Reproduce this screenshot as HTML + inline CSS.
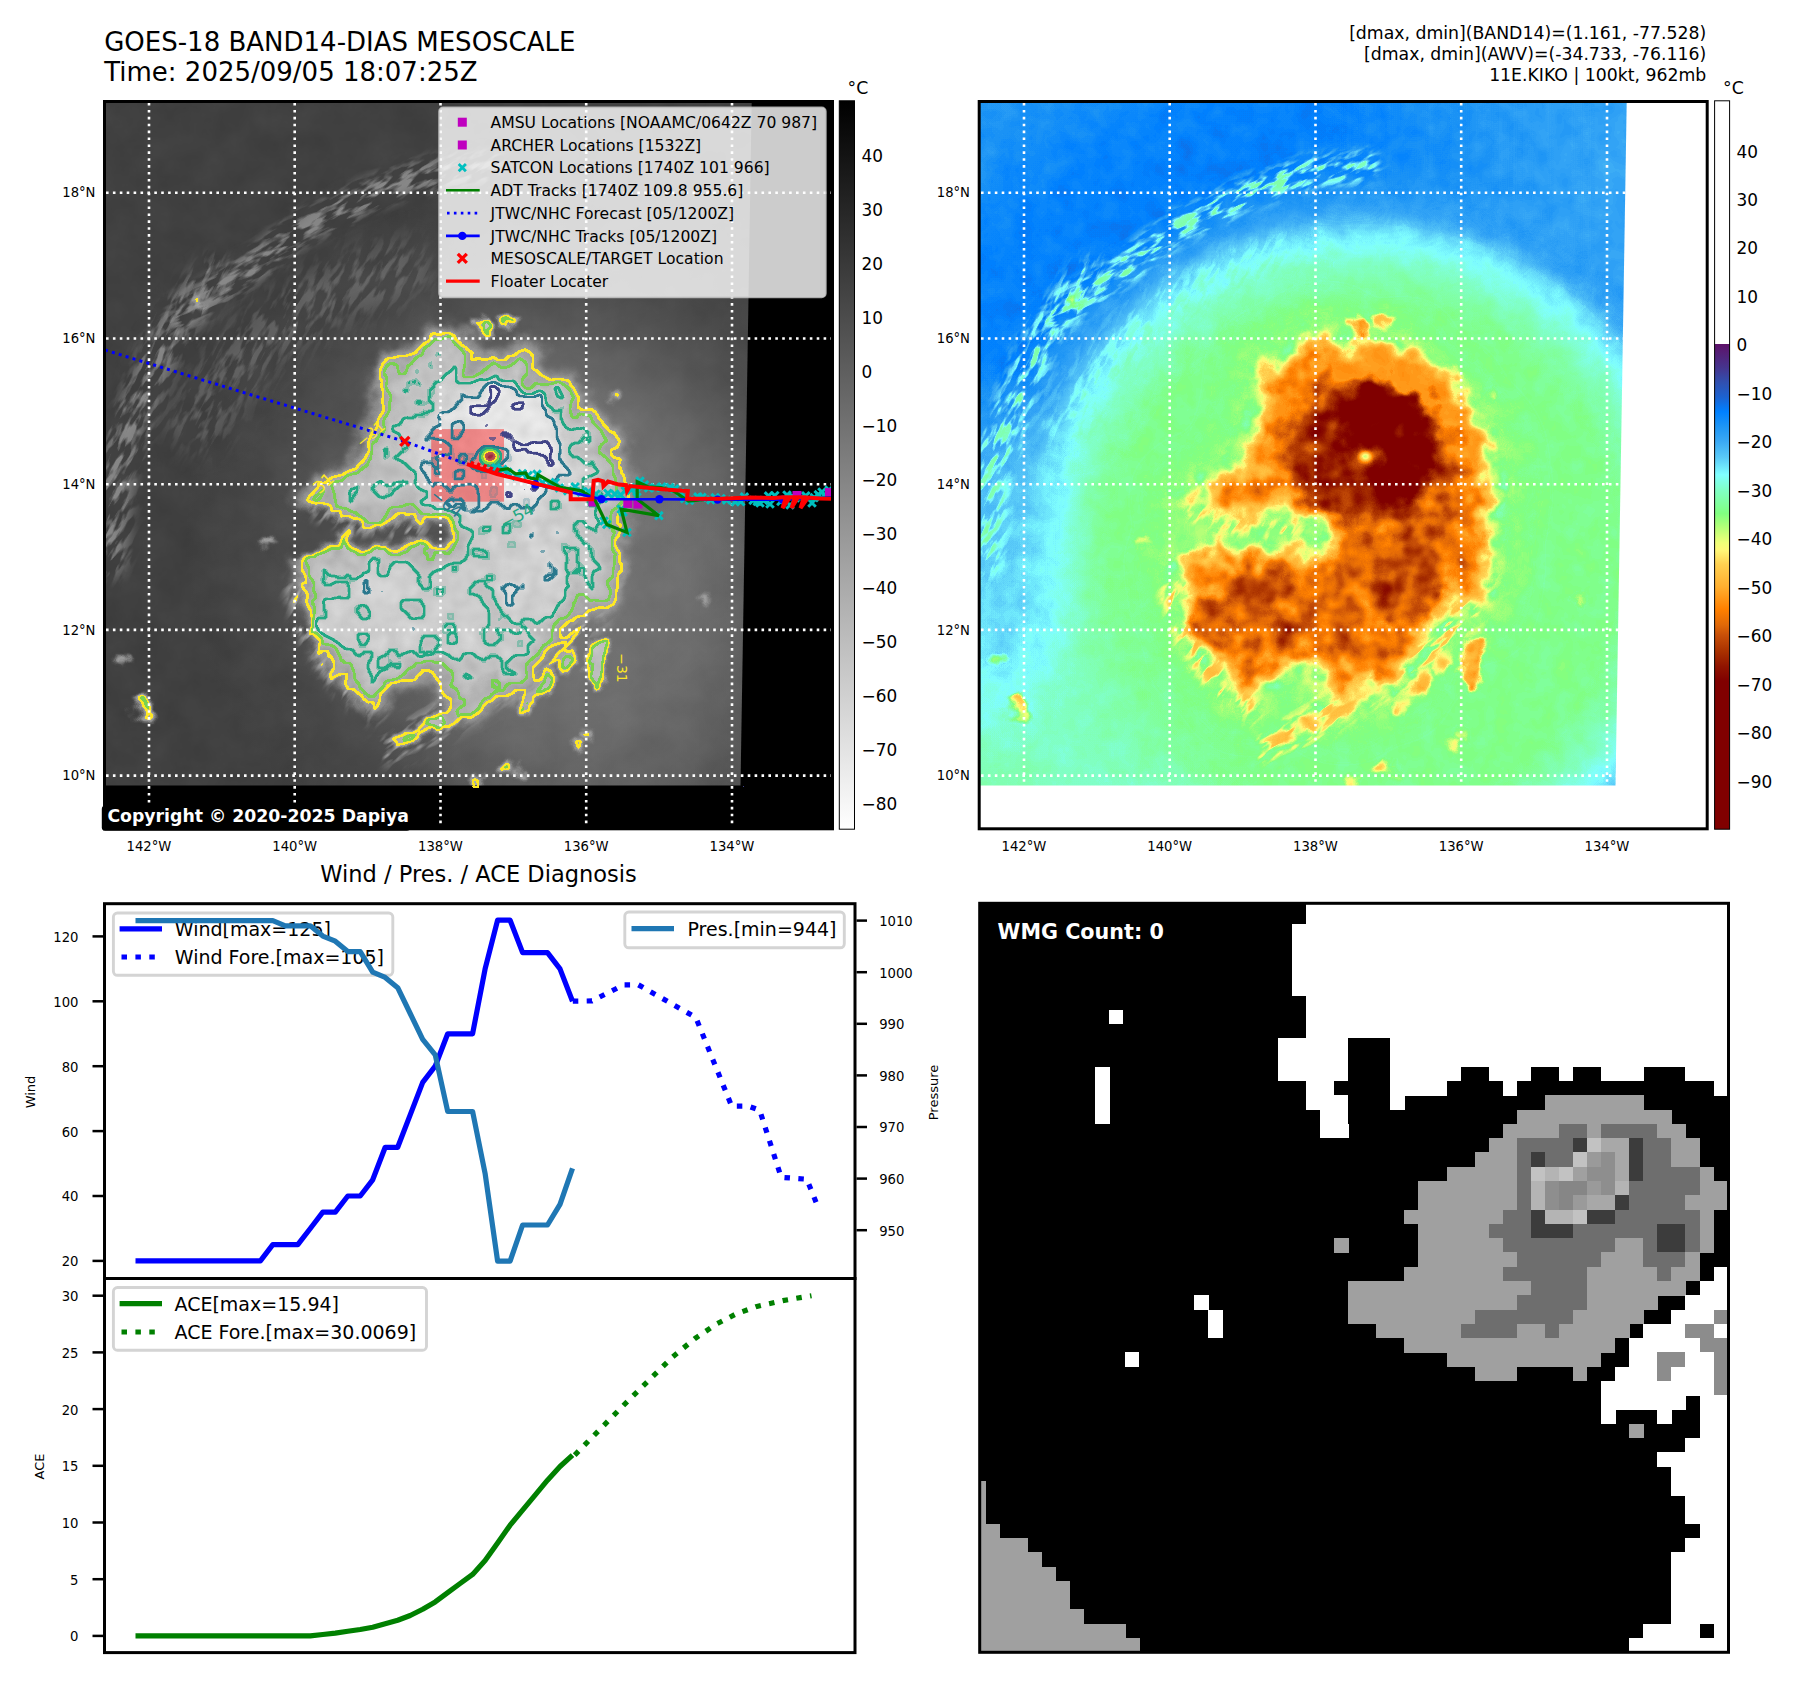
<!DOCTYPE html>
<html><head><meta charset="utf-8"><title>GOES-18 BAND14-DIAS MESOSCALE</title>
<style>html,body{margin:0;padding:0;background:#fff}svg{display:block}text{font-family:'DejaVu Sans','Liberation Sans',sans-serif}</style></head><body>
<svg width="1797" height="1690" viewBox="0 0 1797 1690">
<rect width="1797" height="1690" fill="#fff"/>
<defs>
<clipPath id="clipAx"><rect x="104.5" y="101.5" width="728" height="727.3"/></clipPath>
<clipPath id="clipD"><polygon points="105,102 751.7,102 745.2,500 740.5,785.5 105,785.5"/></clipPath>
<filter id="b2" filterUnits="userSpaceOnUse" x="0" y="0" width="900" height="900" color-interpolation-filters="sRGB"><feGaussianBlur stdDeviation="2"/></filter>
<filter id="b3" filterUnits="userSpaceOnUse" x="0" y="0" width="900" height="900" color-interpolation-filters="sRGB"><feGaussianBlur stdDeviation="3"/></filter>
<filter id="b4" filterUnits="userSpaceOnUse" x="0" y="0" width="900" height="900" color-interpolation-filters="sRGB"><feGaussianBlur stdDeviation="4"/></filter>
<filter id="b5" filterUnits="userSpaceOnUse" x="0" y="0" width="900" height="900" color-interpolation-filters="sRGB"><feGaussianBlur stdDeviation="5"/></filter>
<filter id="b6" filterUnits="userSpaceOnUse" x="0" y="0" width="900" height="900" color-interpolation-filters="sRGB"><feGaussianBlur stdDeviation="6"/></filter>
<filter id="b8" filterUnits="userSpaceOnUse" x="0" y="0" width="900" height="900" color-interpolation-filters="sRGB"><feGaussianBlur stdDeviation="8"/></filter>
<filter id="b10" filterUnits="userSpaceOnUse" x="0" y="0" width="900" height="900" color-interpolation-filters="sRGB"><feGaussianBlur stdDeviation="10"/></filter>
<filter id="b14" filterUnits="userSpaceOnUse" x="0" y="0" width="900" height="900" color-interpolation-filters="sRGB"><feGaussianBlur stdDeviation="14"/></filter>
<filter id="b20" filterUnits="userSpaceOnUse" x="0" y="0" width="900" height="900" color-interpolation-filters="sRGB"><feGaussianBlur stdDeviation="20"/></filter>
<filter id="b30" filterUnits="userSpaceOnUse" x="0" y="0" width="900" height="900" color-interpolation-filters="sRGB"><feGaussianBlur stdDeviation="30"/></filter>
<filter id="rag" filterUnits="userSpaceOnUse" x="90" y="90" width="680" height="710" color-interpolation-filters="sRGB"><feTurbulence type="fractalNoise" baseFrequency="0.045" numOctaves="3" seed="7" result="t"/><feDisplacementMap in="SourceGraphic" in2="t" scale="22" xChannelSelector="R" yChannelSelector="G" result="d"/><feTurbulence type="fractalNoise" baseFrequency="0.05" numOctaves="2" seed="5" result="a0"/><feColorMatrix in="a0" type="matrix" values="1 0 0 0 0  1 0 0 0 0  1 0 0 0 0  0 0 0 0 1" result="a1"/><feComposite in="a1" in2="d" operator="in" result="aIn"/><feTurbulence type="fractalNoise" baseFrequency="0.05" numOctaves="2" seed="19" result="b0"/><feColorMatrix in="b0" type="matrix" values="1 0 0 0 0  1 0 0 0 0  1 0 0 0 0  0 0 0 0 1" result="b1"/><feComposite in="b1" in2="d" operator="in" result="bIn"/><feComposite in="d" in2="bIn" operator="arithmetic" k1="0" k2="1" k3="-0.11" k4="0" result="r1"/><feComposite in="r1" in2="aIn" operator="arithmetic" k1="0" k2="1" k3="0.11" k4="0"/></filter>
<filter id="rag1" filterUnits="userSpaceOnUse" x="90" y="90" width="680" height="710" color-interpolation-filters="sRGB"><feTurbulence type="fractalNoise" baseFrequency="0.03" numOctaves="3" seed="23" result="t"/><feDisplacementMap in="SourceGraphic" in2="t" scale="40" xChannelSelector="R" yChannelSelector="G"/></filter>
<filter id="er9" filterUnits="userSpaceOnUse" x="90" y="90" width="680" height="710" color-interpolation-filters="sRGB"><feMorphology operator="erode" radius="9"/><feGaussianBlur stdDeviation="6"/></filter>
<filter id="cmapR" filterUnits="userSpaceOnUse" x="90" y="90" width="680" height="710" color-interpolation-filters="sRGB"><feTurbulence type="fractalNoise" baseFrequency="0.05" numOctaves="3" seed="3" result="n"/><feColorMatrix in="n" type="matrix" values="1 0 0 0 0  1 0 0 0 0  1 0 0 0 0  0 0 0 0 1" result="n1"/><feComposite in="SourceGraphic" in2="n1" operator="arithmetic" k1="0" k2="1" k3="0.03" k4="-0.015" result="f"/><feComponentTransfer in="f"><feFuncR type="table" tableValues="1 1 1 1 1 1 1 1 1 1 1 1 1 1 1 1 1 1 1 1 1 1 1 1 1 1 1 1 1 1 1 1 1 1 1 1 1 1 1 1 1 1 1 1 1 1 1 1 1 1 1 1 1 1 1 1 1 1 1 1 1 1 1 1 1 1 1 1 1 1 1 1 1 1 1 1 1 1 1 1 1 1 1 1 1 1 1 1 1 1 1 1 1 1 1 1 1 1 1 1 0.369 0.359 0.349 0.339 0.329 0.32 0.31 0.3 0.29 0.28 0.271 0.257 0.243 0.229 0.216 0.202 0.188 0.175 0.162 0.149 0.136 0.123 0.11 0.092 0.073 0.055 0.037 0.018 0 0.019 0.038 0.057 0.076 0.095 0.114 0.132 0.15 0.169 0.187 0.205 0.224 0.242 0.261 0.279 0.297 0.316 0.334 0.353 0.374 0.396 0.417 0.438 0.459 0.481 0.502 0.502 0.502 0.502 0.502 0.502 0.502 0.502 0.502 0.502 0.502 0.502 0.502 0.502 0.502 0.502 0.502 0.538 0.574 0.611 0.647 0.683 0.72 0.757 0.794 0.83 0.867 0.904 0.941 0.961 0.98 1 1 1 1 1 1 1 1 1 1 1 1 1 1 1 1 1 1 1 1 1 1 1 1 1 0.989 0.971 0.952 0.934 0.915 0.897 0.878 0.855 0.831 0.808 0.784 0.766 0.748 0.731 0.713 0.695 0.677 0.659 0.643 0.627 0.612 0.596 0.58 0.565 0.554 0.544 0.533 0.523 0.512 0.502 0.502 0.502 0.502 0.502 0.502 0.502 0.502 0.502 0.502 0.502 0.502 0.502 0.502 0.502 0.502 0.502 0.502 0.502 0.502 0.502 0.502 0.502 0.502 0.502 0.502 0.502 0.502 0.502 0.502 0.502 0.502"/><feFuncG type="table" tableValues="1 1 1 1 1 1 1 1 1 1 1 1 1 1 1 1 1 1 1 1 1 1 1 1 1 1 1 1 1 1 1 1 1 1 1 1 1 1 1 1 1 1 1 1 1 1 1 1 1 1 1 1 1 1 1 1 1 1 1 1 1 1 1 1 1 1 1 1 1 1 1 1 1 1 1 1 1 1 1 1 1 1 1 1 1 1 1 1 1 1 1 1 1 1 1 1 1 1 1 1 0.067 0.081 0.095 0.109 0.123 0.137 0.151 0.165 0.18 0.194 0.208 0.225 0.243 0.261 0.278 0.296 0.314 0.325 0.337 0.349 0.361 0.373 0.384 0.404 0.424 0.443 0.463 0.482 0.502 0.516 0.529 0.543 0.557 0.571 0.584 0.597 0.609 0.622 0.634 0.646 0.659 0.678 0.697 0.716 0.735 0.754 0.773 0.792 0.822 0.852 0.881 0.911 0.941 0.97 1 1 1 1 1 1 1 1 1 1 1 1 1 1 1 1 1 1 1 1 1 1 1 1 1 1 1 1 1 0.991 0.982 0.973 0.946 0.92 0.894 0.868 0.842 0.816 0.802 0.788 0.774 0.76 0.746 0.732 0.718 0.704 0.69 0.67 0.65 0.63 0.61 0.59 0.57 0.55 0.53 0.51 0.493 0.479 0.465 0.451 0.436 0.422 0.408 0.384 0.361 0.337 0.314 0.296 0.278 0.26 0.242 0.224 0.206 0.188 0.17 0.152 0.133 0.115 0.097 0.078 0.065 0.052 0.039 0.026 0.013 0 0 0 0 0 0 0 0 0 0 0 0 0 0 0 0 0 0 0 0 0 0 0 0 0 0 0 0 0 0 0 0"/><feFuncB type="table" tableValues="1 1 1 1 1 1 1 1 1 1 1 1 1 1 1 1 1 1 1 1 1 1 1 1 1 1 1 1 1 1 1 1 1 1 1 1 1 1 1 1 1 1 1 1 1 1 1 1 1 1 1 1 1 1 1 1 1 1 1 1 1 1 1 1 1 1 1 1 1 1 1 1 1 1 1 1 1 1 1 1 1 1 1 1 1 1 1 1 1 1 1 1 1 1 1 1 1 1 1 1 0.408 0.423 0.438 0.454 0.469 0.484 0.5 0.515 0.53 0.545 0.561 0.582 0.604 0.625 0.647 0.669 0.69 0.711 0.732 0.753 0.774 0.795 0.816 0.846 0.877 0.908 0.939 0.969 1 0.993 0.987 0.98 0.974 0.967 0.961 0.961 0.961 0.961 0.961 0.961 0.961 0.962 0.964 0.966 0.968 0.969 0.971 0.973 0.976 0.98 0.984 0.988 0.992 0.996 1 0.964 0.928 0.892 0.856 0.82 0.784 0.756 0.728 0.7 0.671 0.643 0.615 0.587 0.558 0.53 0.502 0.496 0.49 0.484 0.478 0.472 0.471 0.471 0.471 0.471 0.471 0.471 0.471 0.471 0.471 0.471 0.444 0.418 0.392 0.366 0.34 0.314 0.3 0.286 0.272 0.258 0.244 0.23 0.216 0.202 0.188 0.168 0.148 0.128 0.108 0.088 0.068 0.048 0.028 0.008 0.003 0.008 0.012 0.017 0.022 0.027 0.031 0.031 0.031 0.031 0.031 0.027 0.022 0.018 0.013 0.009 0.004 0 0 0 0 0 0 0 0 0 0 0 0 0 0 0 0 0 0 0 0 0 0 0 0 0 0 0 0 0 0 0 0 0 0 0 0 0 0 0 0 0 0 0 0"/></feComponentTransfer></filter>
<filter id="noiseL" filterUnits="userSpaceOnUse" x="90" y="90" width="680" height="710" color-interpolation-filters="sRGB"><feTurbulence type="fractalNoise" baseFrequency="0.03" numOctaves="4" seed="11" result="n"/><feColorMatrix in="n" type="matrix" values="1 0 0 0 0  1 0 0 0 0  1 0 0 0 0  0 0 0 0 1" result="n1"/><feComposite in="SourceGraphic" in2="n1" operator="arithmetic" k1="0" k2="1" k3="0.045" k4="-0.0225"/></filter>
<filter id="cont" filterUnits="userSpaceOnUse" x="90" y="90" width="680" height="710" color-interpolation-filters="sRGB"><feGaussianBlur in="SourceGraphic" stdDeviation="1.8" result="sg"/><feColorMatrix in="sg" type="matrix" values="0 0 0 0 0.992  0 0 0 0 0.906  0 0 0 0 0.145  120.0 0 0 0 -72.000" result="m0"/><feMorphology in="m0" operator="erode" radius="2" result="e0"/><feComposite in="m0" in2="e0" operator="out" result="c0"/><feColorMatrix in="sg" type="matrix" values="0 0 0 0 0.478  0 0 0 0 0.820  0 0 0 0 0.318  120.0 0 0 0 -80.889" result="m1"/><feMorphology in="m1" operator="erode" radius="2" result="e1"/><feComposite in="m1" in2="e1" operator="out" result="c1"/><feColorMatrix in="sg" type="matrix" values="0 0 0 0 0.133  0 0 0 0 0.659  0 0 0 0 0.518  120.0 0 0 0 -92.444" result="m2"/><feMorphology in="m2" operator="erode" radius="2" result="e2"/><feComposite in="m2" in2="e2" operator="out" result="c2"/><feColorMatrix in="sg" type="matrix" values="0 0 0 0 0.165  0 0 0 0 0.471  0 0 0 0 0.557  120.0 0 0 0 -101.333" result="m3"/><feMorphology in="m3" operator="erode" radius="2" result="e3"/><feComposite in="m3" in2="e3" operator="out" result="c3"/><feColorMatrix in="sg" type="matrix" values="0 0 0 0 0.255  0 0 0 0 0.267  0 0 0 0 0.529  120.0 0 0 0 -110.222" result="m4"/><feMorphology in="m4" operator="erode" radius="2" result="e4"/><feComposite in="m4" in2="e4" operator="out" result="c4"/><feMerge result="mg"><feMergeNode in="c0"/><feMergeNode in="c1"/><feMergeNode in="c2"/><feMergeNode in="c3"/><feMergeNode in="c4"/></feMerge><feComponentTransfer in="mg"><feFuncA type="linear" slope="3" intercept="-0.4"/></feComponentTransfer></filter>
<radialGradient id="bgR" gradientUnits="userSpaceOnUse" cx="490" cy="560" r="700"><stop offset="0.000" stop-color="#9f9f9f"/><stop offset="0.364" stop-color="#9f9f9f"/><stop offset="0.400" stop-color="#9b9b9b"/><stop offset="0.436" stop-color="#959595"/><stop offset="0.457" stop-color="#919191"/><stop offset="0.479" stop-color="#8c8c8c"/><stop offset="0.500" stop-color="#848484"/><stop offset="0.529" stop-color="#7e7e7e"/><stop offset="0.571" stop-color="#797979"/><stop offset="0.686" stop-color="#7a7a7a"/><stop offset="0.800" stop-color="#7e7e7e"/><stop offset="0.914" stop-color="#808080"/><stop offset="1.000" stop-color="#808080"/></radialGradient>
<radialGradient id="eastR" gradientUnits="userSpaceOnUse" cx="490" cy="560" r="700" ><stop offset="0.000" stop-color="#838383" stop-opacity="0"/><stop offset="0.479" stop-color="#838383" stop-opacity="0"/><stop offset="0.536" stop-color="#838383" stop-opacity="1"/><stop offset="1.000" stop-color="#838383" stop-opacity="1"/></radialGradient>
<linearGradient id="eastLG" gradientUnits="userSpaceOnUse" x1="430" y1="0" x2="720" y2="0"><stop offset="0" stop-color="#000"/><stop offset="1" stop-color="#fff"/></linearGradient>
<mask id="eastM" maskUnits="userSpaceOnUse" x="90" y="90" width="700" height="720"><rect x="90" y="90" width="700" height="720" fill="url(#eastLG)"/></mask>
<radialGradient id="haloL" gradientUnits="userSpaceOnUse" cx="545" cy="540" r="400" ><stop offset="0.000" stop-color="#797979" stop-opacity="1"/><stop offset="0.375" stop-color="#797979" stop-opacity="0.78"/><stop offset="0.463" stop-color="#797979" stop-opacity="0.6"/><stop offset="0.562" stop-color="#797979" stop-opacity="0.36"/><stop offset="0.713" stop-color="#797979" stop-opacity="0.13"/><stop offset="0.900" stop-color="#797979" stop-opacity="0.0"/><stop offset="1.000" stop-color="#797979" stop-opacity="0"/></radialGradient>
<radialGradient id="halo2" gradientUnits="userSpaceOnUse" cx="610" cy="690" r="230" ><stop offset="0.000" stop-color="#707070" stop-opacity="0.75"/><stop offset="0.391" stop-color="#707070" stop-opacity="0.6"/><stop offset="0.696" stop-color="#707070" stop-opacity="0.3"/><stop offset="1.000" stop-color="#707070" stop-opacity="0"/></radialGradient>
<radialGradient id="cyL" gradientUnits="userSpaceOnUse" cx="120" cy="560" r="200" gradientTransform="translate(120 560) scale(0.5 1) translate(-120 -560)"><stop offset="0.000" stop-color="#8e8e8e" stop-opacity="0.85"/><stop offset="0.400" stop-color="#8e8e8e" stop-opacity="0.7"/><stop offset="0.700" stop-color="#8e8e8e" stop-opacity="0.35"/><stop offset="1.000" stop-color="#8e8e8e" stop-opacity="0"/></radialGradient>
<radialGradient id="blR" gradientUnits="userSpaceOnUse" cx="120" cy="800" r="260" ><stop offset="0.000" stop-color="#9b9b9b" stop-opacity="1"/><stop offset="0.462" stop-color="#9b9b9b" stop-opacity="0.8"/><stop offset="1.000" stop-color="#9b9b9b" stop-opacity="0"/></radialGradient>
<mask id="moatM" maskUnits="userSpaceOnUse" x="60" y="60" width="800" height="800"><rect x="60" y="60" width="800" height="800" fill="#fff"/><path d="M285.0,512.0 C291.3,506.3 310.0,510.2 320.0,511.0 C330.0,511.8 337.5,514.7 345.0,517.0 C352.5,519.3 358.3,523.3 365.0,525.0 C371.7,526.7 379.5,527.7 385.0,527.0 C390.5,526.3 394.5,523.3 398.0,521.0 C401.5,518.7 403.0,512.3 406.0,513.0 C409.0,513.7 411.0,523.0 416.0,525.0 C421.0,527.0 430.0,524.0 436.0,525.0 C442.0,526.0 450.3,528.3 452.0,531.0 C453.7,533.7 449.7,538.5 446.0,541.0 C442.3,543.5 435.2,546.2 430.0,546.0 C424.8,545.8 420.8,540.2 415.0,540.0 C409.2,539.8 401.7,544.7 395.0,545.0 C388.3,545.3 381.2,542.3 375.0,542.0 C368.8,541.7 362.2,544.5 358.0,543.0 C353.8,541.5 352.7,535.0 350.0,533.0 C347.3,531.0 344.5,528.8 342.0,531.0 C339.5,533.2 337.8,543.3 335.0,546.0 C332.2,548.7 330.8,545.7 325.0,547.0 C319.2,548.3 307.2,554.3 300.0,554.0 C292.8,553.7 284.5,552.0 282.0,545.0 C279.5,538.0 278.7,517.7 285.0,512.0Z" fill="#000" filter="url(#b3)"/></mask>
<path id="moat" d="M285.0,512.0 C291.3,506.3 310.0,510.2 320.0,511.0 C330.0,511.8 337.5,514.7 345.0,517.0 C352.5,519.3 358.3,523.3 365.0,525.0 C371.7,526.7 379.5,527.7 385.0,527.0 C390.5,526.3 394.5,523.3 398.0,521.0 C401.5,518.7 403.0,512.3 406.0,513.0 C409.0,513.7 411.0,523.0 416.0,525.0 C421.0,527.0 430.0,524.0 436.0,525.0 C442.0,526.0 450.3,528.3 452.0,531.0 C453.7,533.7 449.7,538.5 446.0,541.0 C442.3,543.5 435.2,546.2 430.0,546.0 C424.8,545.8 420.8,540.2 415.0,540.0 C409.2,539.8 401.7,544.7 395.0,545.0 C388.3,545.3 381.2,542.3 375.0,542.0 C368.8,541.7 362.2,544.5 358.0,543.0 C353.8,541.5 352.7,535.0 350.0,533.0 C347.3,531.0 344.5,528.8 342.0,531.0 C339.5,533.2 337.8,543.3 335.0,546.0 C332.2,548.7 330.8,545.7 325.0,547.0 C319.2,548.3 307.2,554.3 300.0,554.0 C292.8,553.7 284.5,552.0 282.0,545.0 C279.5,538.0 278.7,517.7 285.0,512.0Z"/>
<filter id="stL" filterUnits="userSpaceOnUse" x="-400" y="-400" width="1600" height="1600" color-interpolation-filters="sRGB"><feTurbulence type="fractalNoise" baseFrequency="0.04 0.15" numOctaves="3" seed="31"/><feColorMatrix type="matrix" values="0 0 0 0 0.53  0 0 0 0 0.53  0 0 0 0 0.53  5.5 0 0 0 -2.5"/></filter>
<filter id="stR" filterUnits="userSpaceOnUse" x="-400" y="-400" width="1600" height="1600" color-interpolation-filters="sRGB"><feTurbulence type="fractalNoise" baseFrequency="0.04 0.15" numOctaves="3" seed="31"/><feColorMatrix type="matrix" values="0 0 0 0 0.607  0 0 0 0 0.607  0 0 0 0 0.607  5.5 0 0 0 -2.5"/></filter>
<mask id="bandA" maskUnits="userSpaceOnUse" x="60" y="60" width="800" height="800"><path d="M108.0,560.0 C109.7,545.0 112.7,496.7 118.0,470.0 C123.3,443.3 130.5,424.2 140.0,400.0 C149.5,375.8 162.5,345.8 175.0,325.0 C187.5,304.2 208.3,283.3 215.0,275.0" fill="none" stroke="#fff" stroke-width="34" stroke-linecap="round" filter="url(#b8)"/><path d="M200.0,420.0 C208.3,408.3 230.0,370.0 250.0,350.0 C270.0,330.0 295.0,313.3 320.0,300.0 C345.0,286.7 386.7,275.0 400.0,270.0" fill="none" stroke="#777" stroke-width="60" stroke-linecap="round" filter="url(#b14)"/></mask>
<mask id="bandB" maskUnits="userSpaceOnUse" x="60" y="60" width="800" height="800"><path d="M180.0,318.0 C185.8,313.3 203.3,298.3 215.0,290.0 C226.7,281.7 236.3,277.7 250.0,268.0 C263.7,258.3 282.0,241.7 297.0,232.0 C312.0,222.3 326.2,217.0 340.0,210.0 C353.8,203.0 365.0,196.0 380.0,190.0 C395.0,184.0 411.7,178.0 430.0,174.0 C448.3,170.0 480.0,167.3 490.0,166.0" fill="none" stroke="#fff" stroke-width="30" stroke-linecap="round" filter="url(#b6)"/></mask>
<filter id="stF" filterUnits="userSpaceOnUse" x="-400" y="-400" width="1600" height="1600" color-interpolation-filters="sRGB"><feTurbulence type="fractalNoise" baseFrequency="0.03 0.11" numOctaves="3" seed="47"/><feColorMatrix type="matrix" values="0 0 0 0 0.726  0 0 0 0 0.726  0 0 0 0 0.726  6 0 0 0 -3.05"/></filter>
<mask id="frM1" maskUnits="userSpaceOnUse" x="60" y="60" width="800" height="800"><path d="M392.0,748.0 C400.0,743.7 425.3,730.3 440.0,722.0 C454.7,713.7 465.8,706.3 480.0,698.0 C494.2,689.7 511.7,680.7 525.0,672.0 C538.3,663.3 549.2,656.0 560.0,646.0 C570.8,636.0 582.7,623.8 590.0,612.0 C597.3,600.2 601.7,581.2 604.0,575.0" fill="none" stroke="#fff" stroke-width="28" stroke-linecap="round" filter="url(#b8)"/></mask>
<mask id="frM2" maskUnits="userSpaceOnUse" x="60" y="60" width="800" height="800"><path d="M300.0,590.0 C302.0,596.7 307.0,618.0 312.0,630.0 C317.0,642.0 323.3,652.0 330.0,662.0 C336.7,672.0 345.0,682.3 352.0,690.0 C359.0,697.7 368.7,705.0 372.0,708.0" fill="none" stroke="#fff" stroke-width="26" stroke-linecap="round" filter="url(#b6)"/><path d="M318.0,512.0 C323.3,513.7 338.8,519.0 350.0,522.0 C361.2,525.0 373.3,529.0 385.0,530.0 C396.7,531.0 414.2,528.3 420.0,528.0" fill="none" stroke="#ccc" stroke-width="16" stroke-linecap="round" filter="url(#b5)"/></mask>
<g id="fringe"><g mask="url(#frM1)"><g transform="rotate(-38 500 680)"><rect x="-300" y="-300" width="1400" height="1400" filter="url(#stF)"/></g></g><g mask="url(#frM2)"><g transform="rotate(-55 330 650)"><rect x="-300" y="-300" width="1400" height="1400" filter="url(#stF)"/></g></g></g>
<g id="cloud" filter="url(#rag)">
<g mask="url(#moatM)"><path d="M445.9,338.0 C451.8,337.3 459.1,338.4 463.4,344.6 C467.8,350.8 468.5,371.6 472.2,375.2 C475.8,378.9 475.8,370.1 485.3,366.5 C494.8,362.8 523.3,351.9 529.1,353.3 C534.9,354.8 513.1,368.7 520.4,375.2 C527.6,381.8 564.9,386.9 572.9,392.7 C580.9,398.6 564.9,405.2 568.5,410.3 C572.2,415.4 586.8,416.1 594.8,423.4 C602.8,430.7 614.5,445.3 616.7,454.1 C618.9,462.8 607.2,470.1 607.9,475.9 C608.7,481.8 620.3,479.6 621.1,489.1 C621.8,498.6 613.8,519.0 612.3,532.9 C610.8,546.7 613.8,559.9 612.3,572.3 C610.8,584.7 608.7,604.4 603.5,607.3 C598.4,610.2 586.8,588.3 581.7,589.8 C576.5,591.2 577.3,611.0 572.9,616.1 C568.5,621.2 559.0,615.3 555.4,620.4 C551.7,625.5 554.7,640.1 551.0,646.7 C547.4,653.3 538.6,653.3 533.5,659.8 C528.4,666.4 526.9,681.0 520.4,686.1 C513.8,691.2 502.1,686.8 494.1,690.5 C486.1,694.1 479.5,706.6 472.2,708.0 C464.9,709.5 454.1,704.2 450.3,699.3 C446.5,694.3 450.9,683.0 449.2,678.5 C447.5,674.0 441.8,675.9 440.0,672.3 C438.2,668.7 440.6,658.4 438.5,656.9 C436.4,655.4 431.0,661.3 427.7,663.1 C424.4,664.9 421.1,665.7 418.5,667.7 C415.9,669.8 416.4,673.6 412.3,675.4 C408.2,677.2 398.9,676.2 393.8,678.5 C388.7,680.8 385.1,685.6 381.5,689.2 C377.9,692.8 376.4,700.5 372.3,700.0 C368.2,699.5 359.5,690.3 356.9,686.2 C354.3,682.1 359.5,679.0 356.9,675.4 C354.3,671.8 346.4,668.2 341.5,664.6 C336.6,661.0 329.2,657.6 327.7,653.8 C326.2,649.9 332.8,645.6 332.3,641.5 C331.8,637.4 327.2,633.8 324.6,629.2 C322.0,624.6 319.2,618.9 316.9,613.8 C314.6,608.7 311.8,603.6 310.8,598.5 C309.8,593.4 311.6,589.3 310.8,583.1 C310.0,576.9 303.6,566.6 306.2,561.5 C308.8,556.4 320.8,553.8 326.2,552.3 C331.6,550.8 336.2,554.9 338.5,552.3 C340.8,549.7 338.5,539.7 340.0,536.9 C341.5,534.1 345.4,533.8 347.7,535.4 C350.0,537.0 351.8,543.6 353.8,546.2 C355.9,548.8 356.4,550.5 360.0,550.8 C363.6,551.0 369.2,547.7 375.4,547.7 C381.5,547.7 390.2,551.0 396.9,550.8 C403.6,550.5 411.3,547.5 415.4,546.2 C419.5,544.9 419.4,541.8 421.5,543.1 C423.6,544.4 425.1,551.0 427.7,553.8 C430.3,556.6 434.3,560.2 436.9,560.0 C439.5,559.8 440.0,555.6 443.1,552.3 C446.2,549.0 452.6,544.1 455.4,540.0 C458.2,535.9 461.0,530.8 460.0,527.7 C459.0,524.6 452.5,523.0 449.2,521.5 C445.9,520.0 445.1,518.5 440.0,518.5 C434.9,518.5 423.4,521.5 418.5,521.5 C413.6,521.5 411.8,520.8 410.8,518.5 C409.8,516.2 413.9,510.0 412.3,507.7 C410.8,505.4 404.1,503.8 401.5,504.6 C398.9,505.4 399.2,510.0 396.9,512.3 C394.6,514.6 390.8,517.0 387.7,518.5 C384.6,520.0 382.6,521.5 378.5,521.5 C374.4,521.5 369.3,520.3 363.1,518.5 C356.9,516.7 348.7,513.1 341.5,510.8 C334.3,508.5 325.1,506.7 320.0,504.6 C314.9,502.6 310.0,501.3 310.8,498.5 C311.6,495.7 318.9,491.1 325.0,488.0 C331.1,484.9 341.4,483.2 347.7,480.0 C354.0,476.8 359.9,473.2 363.0,469.0 C366.1,464.8 364.0,459.8 366.0,455.0 C368.0,450.2 371.9,443.8 375.0,440.0 C378.1,436.2 383.7,436.4 384.6,432.2 C385.5,428.0 378.7,421.2 380.2,414.6 C381.7,408.0 392.7,399.3 393.4,392.7 C394.1,386.1 382.4,381.0 384.6,375.2 C386.8,369.4 399.2,362.1 406.5,357.7 C413.8,353.3 421.8,352.3 428.4,349.0 C435.0,345.7 440.1,338.8 445.9,338.0Z" fill="#a2a2a2" stroke="#a2a2a2" stroke-width="24" stroke-linejoin="round" filter="url(#b6)"/></g>
<path d="M445.9,338.0 C451.8,337.3 459.1,338.4 463.4,344.6 C467.8,350.8 468.5,371.6 472.2,375.2 C475.8,378.9 475.8,370.1 485.3,366.5 C494.8,362.8 523.3,351.9 529.1,353.3 C534.9,354.8 513.1,368.7 520.4,375.2 C527.6,381.8 564.9,386.9 572.9,392.7 C580.9,398.6 564.9,405.2 568.5,410.3 C572.2,415.4 586.8,416.1 594.8,423.4 C602.8,430.7 614.5,445.3 616.7,454.1 C618.9,462.8 607.2,470.1 607.9,475.9 C608.7,481.8 620.3,479.6 621.1,489.1 C621.8,498.6 613.8,519.0 612.3,532.9 C610.8,546.7 613.8,559.9 612.3,572.3 C610.8,584.7 608.7,604.4 603.5,607.3 C598.4,610.2 586.8,588.3 581.7,589.8 C576.5,591.2 577.3,611.0 572.9,616.1 C568.5,621.2 559.0,615.3 555.4,620.4 C551.7,625.5 554.7,640.1 551.0,646.7 C547.4,653.3 538.6,653.3 533.5,659.8 C528.4,666.4 526.9,681.0 520.4,686.1 C513.8,691.2 502.1,686.8 494.1,690.5 C486.1,694.1 479.5,706.6 472.2,708.0 C464.9,709.5 454.1,704.2 450.3,699.3 C446.5,694.3 450.9,683.0 449.2,678.5 C447.5,674.0 441.8,675.9 440.0,672.3 C438.2,668.7 440.6,658.4 438.5,656.9 C436.4,655.4 431.0,661.3 427.7,663.1 C424.4,664.9 421.1,665.7 418.5,667.7 C415.9,669.8 416.4,673.6 412.3,675.4 C408.2,677.2 398.9,676.2 393.8,678.5 C388.7,680.8 385.1,685.6 381.5,689.2 C377.9,692.8 376.4,700.5 372.3,700.0 C368.2,699.5 359.5,690.3 356.9,686.2 C354.3,682.1 359.5,679.0 356.9,675.4 C354.3,671.8 346.4,668.2 341.5,664.6 C336.6,661.0 329.2,657.6 327.7,653.8 C326.2,649.9 332.8,645.6 332.3,641.5 C331.8,637.4 327.2,633.8 324.6,629.2 C322.0,624.6 319.2,618.9 316.9,613.8 C314.6,608.7 311.8,603.6 310.8,598.5 C309.8,593.4 311.6,589.3 310.8,583.1 C310.0,576.9 303.6,566.6 306.2,561.5 C308.8,556.4 320.8,553.8 326.2,552.3 C331.6,550.8 336.2,554.9 338.5,552.3 C340.8,549.7 338.5,539.7 340.0,536.9 C341.5,534.1 345.4,533.8 347.7,535.4 C350.0,537.0 351.8,543.6 353.8,546.2 C355.9,548.8 356.4,550.5 360.0,550.8 C363.6,551.0 369.2,547.7 375.4,547.7 C381.5,547.7 390.2,551.0 396.9,550.8 C403.6,550.5 411.3,547.5 415.4,546.2 C419.5,544.9 419.4,541.8 421.5,543.1 C423.6,544.4 425.1,551.0 427.7,553.8 C430.3,556.6 434.3,560.2 436.9,560.0 C439.5,559.8 440.0,555.6 443.1,552.3 C446.2,549.0 452.6,544.1 455.4,540.0 C458.2,535.9 461.0,530.8 460.0,527.7 C459.0,524.6 452.5,523.0 449.2,521.5 C445.9,520.0 445.1,518.5 440.0,518.5 C434.9,518.5 423.4,521.5 418.5,521.5 C413.6,521.5 411.8,520.8 410.8,518.5 C409.8,516.2 413.9,510.0 412.3,507.7 C410.8,505.4 404.1,503.8 401.5,504.6 C398.9,505.4 399.2,510.0 396.9,512.3 C394.6,514.6 390.8,517.0 387.7,518.5 C384.6,520.0 382.6,521.5 378.5,521.5 C374.4,521.5 369.3,520.3 363.1,518.5 C356.9,516.7 348.7,513.1 341.5,510.8 C334.3,508.5 325.1,506.7 320.0,504.6 C314.9,502.6 310.0,501.3 310.8,498.5 C311.6,495.7 318.9,491.1 325.0,488.0 C331.1,484.9 341.4,483.2 347.7,480.0 C354.0,476.8 359.9,473.2 363.0,469.0 C366.1,464.8 364.0,459.8 366.0,455.0 C368.0,450.2 371.9,443.8 375.0,440.0 C378.1,436.2 383.7,436.4 384.6,432.2 C385.5,428.0 378.7,421.2 380.2,414.6 C381.7,408.0 392.7,399.3 393.4,392.7 C394.1,386.1 382.4,381.0 384.6,375.2 C386.8,369.4 399.2,362.1 406.5,357.7 C413.8,353.3 421.8,352.3 428.4,349.0 C435.0,345.7 440.1,338.8 445.9,338.0Z" fill="#b7b7b7" filter="url(#b5)"/>
<path d="M445.9,338.0 C451.8,337.3 459.1,338.4 463.4,344.6 C467.8,350.8 468.5,371.6 472.2,375.2 C475.8,378.9 475.8,370.1 485.3,366.5 C494.8,362.8 523.3,351.9 529.1,353.3 C534.9,354.8 513.1,368.7 520.4,375.2 C527.6,381.8 564.9,386.9 572.9,392.7 C580.9,398.6 564.9,405.2 568.5,410.3 C572.2,415.4 586.8,416.1 594.8,423.4 C602.8,430.7 614.5,445.3 616.7,454.1 C618.9,462.8 607.2,470.1 607.9,475.9 C608.7,481.8 620.3,479.6 621.1,489.1 C621.8,498.6 613.8,519.0 612.3,532.9 C610.8,546.7 613.8,559.9 612.3,572.3 C610.8,584.7 608.7,604.4 603.5,607.3 C598.4,610.2 586.8,588.3 581.7,589.8 C576.5,591.2 577.3,611.0 572.9,616.1 C568.5,621.2 559.0,615.3 555.4,620.4 C551.7,625.5 554.7,640.1 551.0,646.7 C547.4,653.3 538.6,653.3 533.5,659.8 C528.4,666.4 526.9,681.0 520.4,686.1 C513.8,691.2 502.1,686.8 494.1,690.5 C486.1,694.1 479.5,706.6 472.2,708.0 C464.9,709.5 454.1,704.2 450.3,699.3 C446.5,694.3 450.9,683.0 449.2,678.5 C447.5,674.0 441.8,675.9 440.0,672.3 C438.2,668.7 440.6,658.4 438.5,656.9 C436.4,655.4 431.0,661.3 427.7,663.1 C424.4,664.9 421.1,665.7 418.5,667.7 C415.9,669.8 416.4,673.6 412.3,675.4 C408.2,677.2 398.9,676.2 393.8,678.5 C388.7,680.8 385.1,685.6 381.5,689.2 C377.9,692.8 376.4,700.5 372.3,700.0 C368.2,699.5 359.5,690.3 356.9,686.2 C354.3,682.1 359.5,679.0 356.9,675.4 C354.3,671.8 346.4,668.2 341.5,664.6 C336.6,661.0 329.2,657.6 327.7,653.8 C326.2,649.9 332.8,645.6 332.3,641.5 C331.8,637.4 327.2,633.8 324.6,629.2 C322.0,624.6 319.2,618.9 316.9,613.8 C314.6,608.7 311.8,603.6 310.8,598.5 C309.8,593.4 311.6,589.3 310.8,583.1 C310.0,576.9 303.6,566.6 306.2,561.5 C308.8,556.4 320.8,553.8 326.2,552.3 C331.6,550.8 336.2,554.9 338.5,552.3 C340.8,549.7 338.5,539.7 340.0,536.9 C341.5,534.1 345.4,533.8 347.7,535.4 C350.0,537.0 351.8,543.6 353.8,546.2 C355.9,548.8 356.4,550.5 360.0,550.8 C363.6,551.0 369.2,547.7 375.4,547.7 C381.5,547.7 390.2,551.0 396.9,550.8 C403.6,550.5 411.3,547.5 415.4,546.2 C419.5,544.9 419.4,541.8 421.5,543.1 C423.6,544.4 425.1,551.0 427.7,553.8 C430.3,556.6 434.3,560.2 436.9,560.0 C439.5,559.8 440.0,555.6 443.1,552.3 C446.2,549.0 452.6,544.1 455.4,540.0 C458.2,535.9 461.0,530.8 460.0,527.7 C459.0,524.6 452.5,523.0 449.2,521.5 C445.9,520.0 445.1,518.5 440.0,518.5 C434.9,518.5 423.4,521.5 418.5,521.5 C413.6,521.5 411.8,520.8 410.8,518.5 C409.8,516.2 413.9,510.0 412.3,507.7 C410.8,505.4 404.1,503.8 401.5,504.6 C398.9,505.4 399.2,510.0 396.9,512.3 C394.6,514.6 390.8,517.0 387.7,518.5 C384.6,520.0 382.6,521.5 378.5,521.5 C374.4,521.5 369.3,520.3 363.1,518.5 C356.9,516.7 348.7,513.1 341.5,510.8 C334.3,508.5 325.1,506.7 320.0,504.6 C314.9,502.6 310.0,501.3 310.8,498.5 C311.6,495.7 318.9,491.1 325.0,488.0 C331.1,484.9 341.4,483.2 347.7,480.0 C354.0,476.8 359.9,473.2 363.0,469.0 C366.1,464.8 364.0,459.8 366.0,455.0 C368.0,450.2 371.9,443.8 375.0,440.0 C378.1,436.2 383.7,436.4 384.6,432.2 C385.5,428.0 378.7,421.2 380.2,414.6 C381.7,408.0 392.7,399.3 393.4,392.7 C394.1,386.1 382.4,381.0 384.6,375.2 C386.8,369.4 399.2,362.1 406.5,357.7 C413.8,353.3 421.8,352.3 428.4,349.0 C435.0,345.7 440.1,338.8 445.9,338.0Z" fill="#c6c6c6" filter="url(#er9)"/>
<path d="M493.3,330.8 C492.7,332.5 490.6,334.4 488.4,335.0 C486.2,335.6 482.7,335.4 480.3,334.5 C477.8,333.6 475.0,331.5 473.8,329.7 C472.5,327.8 472.0,325.0 472.7,323.2 C473.3,321.5 475.4,319.6 477.6,319.0 C479.8,318.4 483.3,318.6 485.7,319.5 C488.2,320.4 491.0,322.5 492.2,324.3 C493.5,326.2 494.0,329.0 493.3,330.8Z" fill="#bdbdbd" filter="url(#b2)"/>
<path d="M515.7,325.3 C515.3,326.8 513.7,328.4 512.0,329.1 C510.2,329.7 507.4,329.8 505.3,329.3 C503.3,328.7 500.8,327.2 499.7,325.8 C498.5,324.4 497.9,322.2 498.3,320.7 C498.7,319.2 500.3,317.6 502.0,316.9 C503.8,316.3 506.6,316.2 508.7,316.7 C510.7,317.3 513.2,318.8 514.3,320.2 C515.5,321.6 516.1,323.8 515.7,325.3Z" fill="#b9b9b9" filter="url(#b2)"/>
<path d="M620.5,393.0 C620.5,394.2 619.7,395.7 618.7,396.5 C617.7,397.4 615.9,398.0 614.5,398.0 C613.1,398.0 611.3,397.4 610.3,396.5 C609.3,395.7 608.5,394.2 608.5,393.0 C608.5,391.8 609.3,390.3 610.3,389.5 C611.3,388.6 613.1,388.0 614.5,388.0 C615.9,388.0 617.7,388.6 618.7,389.5 C619.7,390.3 620.5,391.8 620.5,393.0Z" fill="#aaaaaa" filter="url(#b2)"/>
<path d="M200.5,305.0 C200.5,306.1 199.9,307.4 199.2,308.2 C198.4,308.9 197.1,309.5 196.0,309.5 C194.9,309.5 193.6,308.9 192.8,308.2 C192.1,307.4 191.5,306.1 191.5,305.0 C191.5,303.9 192.1,302.6 192.8,301.8 C193.6,301.1 194.9,300.5 196.0,300.5 C197.1,300.5 198.4,301.1 199.2,301.8 C199.9,302.6 200.5,303.9 200.5,305.0Z" fill="#aaaaaa" filter="url(#b2)"/>
<path d="M274.0,545.0 C274.0,546.1 273.4,547.4 272.5,548.2 C271.7,548.9 270.2,549.5 269.0,549.5 C267.8,549.5 266.3,548.9 265.5,548.2 C264.6,547.4 264.0,546.1 264.0,545.0 C264.0,543.9 264.6,542.6 265.5,541.8 C266.3,541.1 267.8,540.5 269.0,540.5 C270.2,540.5 271.7,541.1 272.5,541.8 C273.4,542.6 274.0,543.9 274.0,545.0Z" fill="#aaaaaa" filter="url(#b2)"/>
<path d="M151.0,706.0 C151.0,707.6 150.0,709.8 148.7,710.9 C147.3,712.1 144.9,713.0 143.0,713.0 C141.1,713.0 138.7,712.1 137.3,710.9 C136.0,709.8 135.0,707.6 135.0,706.0 C135.0,704.4 136.0,702.2 137.3,701.1 C138.7,699.9 141.1,699.0 143.0,699.0 C144.9,699.0 147.3,699.9 148.7,701.1 C150.0,702.2 151.0,704.4 151.0,706.0Z" fill="#b2b2b2" filter="url(#b2)"/>
<path d="M153.0,716.0 C153.0,717.4 152.1,719.2 150.9,720.2 C149.8,721.2 147.6,722.0 146.0,722.0 C144.4,722.0 142.2,721.2 141.1,720.2 C139.9,719.2 139.0,717.4 139.0,716.0 C139.0,714.6 139.9,712.8 141.1,711.8 C142.2,710.8 144.4,710.0 146.0,710.0 C147.6,710.0 149.8,710.8 150.9,711.8 C152.1,712.8 153.0,714.6 153.0,716.0Z" fill="#aeaeae" filter="url(#b2)"/>
<path d="M126.5,661.0 C126.5,662.1 125.9,663.4 125.2,664.2 C124.4,664.9 123.1,665.5 122.0,665.5 C120.9,665.5 119.6,664.9 118.8,664.2 C118.1,663.4 117.5,662.1 117.5,661.0 C117.5,659.9 118.1,658.6 118.8,657.8 C119.6,657.1 120.9,656.5 122.0,656.5 C123.1,656.5 124.4,657.1 125.2,657.8 C125.9,658.6 126.5,659.9 126.5,661.0Z" fill="#a6a6a6" filter="url(#b2)"/>
<path d="M709.5,601.0 C709.5,602.1 708.9,603.4 708.2,604.2 C707.4,604.9 706.1,605.5 705.0,605.5 C703.9,605.5 702.6,604.9 701.8,604.2 C701.1,603.4 700.5,602.1 700.5,601.0 C700.5,599.9 701.1,598.6 701.8,597.8 C702.6,597.1 703.9,596.5 705.0,596.5 C706.1,596.5 707.4,597.1 708.2,597.8 C708.9,598.6 709.5,599.9 709.5,601.0Z" fill="#a6a6a6" filter="url(#b2)"/>
<path d="M608.9,666.5 C608.0,673.1 605.4,681.3 602.9,685.7 C600.5,690.1 596.7,693.1 594.1,692.7 C591.5,692.4 588.7,688.4 587.5,683.5 C586.4,678.6 586.2,670.0 587.1,663.5 C588.0,656.9 590.6,648.7 593.1,644.3 C595.5,639.9 599.3,636.9 601.9,637.3 C604.5,637.6 607.3,641.6 608.5,646.5 C609.6,651.4 609.8,660.0 608.9,666.5Z" fill="#bdbdbd" filter="url(#b2)"/>
<path d="M552.3,688.4 C550.5,692.2 547.2,696.8 544.7,698.9 C542.3,701.1 539.1,702.1 537.4,701.3 C535.7,700.5 534.4,697.4 534.5,694.1 C534.6,690.9 536.0,685.5 537.7,681.6 C539.5,677.8 542.8,673.2 545.3,671.1 C547.7,668.9 550.9,667.9 552.6,668.7 C554.3,669.5 555.6,672.6 555.5,675.9 C555.4,679.1 554.0,684.5 552.3,688.4Z" fill="#b3b3b3" filter="url(#b2)"/>
<path d="M574.6,662.4 C573.4,665.5 571.2,669.2 569.3,671.0 C567.4,672.8 564.8,673.7 563.2,673.2 C561.7,672.6 560.3,670.2 560.0,667.6 C559.7,665.0 560.3,660.7 561.4,657.6 C562.6,654.5 564.8,650.8 566.7,649.0 C568.6,647.2 571.2,646.3 572.8,646.8 C574.3,647.4 575.7,649.8 576.0,652.4 C576.3,655.0 575.7,659.3 574.6,662.4Z" fill="#aeaeae" filter="url(#b2)"/>
<path d="M536.1,703.5 C534.6,705.9 532.1,708.7 530.0,709.8 C528.0,711.0 525.4,711.2 524.0,710.4 C522.6,709.6 521.5,707.2 521.5,704.9 C521.5,702.6 522.5,698.9 523.9,696.5 C525.4,694.1 527.9,691.3 530.0,690.2 C532.0,689.0 534.6,688.8 536.0,689.6 C537.4,690.4 538.5,692.8 538.5,695.1 C538.5,697.4 537.5,701.1 536.1,703.5Z" fill="#aeaeae" filter="url(#b2)"/>
<path d="M581.6,743.6 C582.0,744.8 581.8,746.7 581.0,748.0 C580.2,749.2 578.4,750.6 576.9,751.2 C575.3,751.7 573.1,751.8 571.7,751.3 C570.3,750.9 568.9,749.6 568.4,748.4 C568.0,747.2 568.2,745.3 569.0,744.0 C569.8,742.8 571.6,741.4 573.1,740.8 C574.7,740.3 576.9,740.2 578.3,740.7 C579.7,741.1 581.1,742.4 581.6,743.6Z" fill="#aeaeae" filter="url(#b2)"/>
<path d="M591.0,737.0 C591.0,738.2 590.4,739.7 589.5,740.5 C588.7,741.4 587.2,742.0 586.0,742.0 C584.8,742.0 583.3,741.4 582.5,740.5 C581.6,739.7 581.0,738.2 581.0,737.0 C581.0,735.8 581.6,734.3 582.5,733.5 C583.3,732.6 584.8,732.0 586.0,732.0 C587.2,732.0 588.7,732.6 589.5,733.5 C590.4,734.3 591.0,735.8 591.0,737.0Z" fill="#aaaaaa" filter="url(#b2)"/>
<path d="M513.0,767.0 C513.0,768.4 512.1,770.2 510.9,771.2 C509.8,772.2 507.6,773.0 506.0,773.0 C504.4,773.0 502.2,772.2 501.1,771.2 C499.9,770.2 499.0,768.4 499.0,767.0 C499.0,765.6 499.9,763.8 501.1,762.8 C502.2,761.8 504.4,761.0 506.0,761.0 C507.6,761.0 509.8,761.8 510.9,762.8 C512.1,763.8 513.0,765.6 513.0,767.0Z" fill="#aeaeae" filter="url(#b2)"/>
<path d="M524.0,772.0 C524.0,773.2 523.4,774.7 522.5,775.5 C521.7,776.4 520.2,777.0 519.0,777.0 C517.8,777.0 516.3,776.4 515.5,775.5 C514.6,774.7 514.0,773.2 514.0,772.0 C514.0,770.8 514.6,769.3 515.5,768.5 C516.3,767.6 517.8,767.0 519.0,767.0 C520.2,767.0 521.7,767.6 522.5,768.5 C523.4,769.3 524.0,770.8 524.0,772.0Z" fill="#a6a6a6" filter="url(#b2)"/>
<path d="M486.0,782.0 C486.0,783.2 485.0,784.7 483.7,785.5 C482.3,786.4 479.9,787.0 478.0,787.0 C476.1,787.0 473.7,786.4 472.3,785.5 C471.0,784.7 470.0,783.2 470.0,782.0 C470.0,780.8 471.0,779.3 472.3,778.5 C473.7,777.6 476.1,777.0 478.0,777.0 C479.9,777.0 482.3,777.6 483.7,778.5 C485.0,779.3 486.0,780.8 486.0,782.0Z" fill="#aeaeae" filter="url(#b2)"/>
<path d="M480.2,704.1 C480.9,705.6 476.7,709.8 470.4,713.9 C464.2,717.9 452.3,724.2 442.8,728.4 C433.4,732.6 420.8,737.3 413.6,739.2 C406.4,741.1 400.5,741.4 399.8,739.9 C399.1,738.4 403.3,734.2 409.6,730.1 C415.8,726.1 427.7,719.8 437.2,715.6 C446.6,711.4 459.2,706.7 466.4,704.8 C473.6,702.9 479.5,702.6 480.2,704.1Z" fill="#b2b2b2" filter="url(#b2)"/>
<path d="M504.7,678.2 C505.6,679.6 504.3,683.1 501.7,686.3 C499.1,689.6 493.6,694.5 489.0,697.7 C484.4,701.0 477.9,704.4 473.9,705.8 C470.0,707.1 466.3,707.1 465.3,705.8 C464.4,704.4 465.7,700.9 468.3,697.7 C470.9,694.4 476.4,689.5 481.0,686.3 C485.6,683.0 492.1,679.6 496.1,678.2 C500.0,676.9 503.7,676.9 504.7,678.2Z" fill="#b2b2b2" filter="url(#b2)"/>
<path d="M416.6,736.9 C416.9,738.0 415.8,739.9 414.1,741.2 C412.4,742.5 409.0,744.1 406.3,744.8 C403.6,745.6 399.9,745.9 397.7,745.6 C395.6,745.3 393.7,744.2 393.4,743.1 C393.1,742.0 394.2,740.1 395.9,738.8 C397.6,737.5 401.0,735.9 403.7,735.2 C406.4,734.4 410.1,734.1 412.3,734.4 C414.4,734.7 416.3,735.8 416.6,736.9Z" fill="#aaaaaa" filter="url(#b2)"/>
<path d="M494.1,379.6 C507.2,379.6 526.2,383.3 537.9,388.4 C549.5,393.5 556.8,401.5 564.1,410.3 C571.4,419.0 578.0,430.0 581.7,440.9 C585.3,451.9 586.0,464.3 586.0,475.9 C586.0,487.6 581.7,500.0 581.7,511.0 C581.7,521.9 586.8,532.1 586.0,541.6 C585.3,551.1 581.7,562.1 577.3,567.9 C572.9,573.7 563.4,571.5 559.8,576.7 C556.1,581.8 560.5,595.6 555.4,598.5 C550.3,601.5 534.9,591.2 529.1,594.2 C523.3,597.1 526.2,613.1 520.4,616.1 C514.5,619.0 499.9,608.0 494.1,611.7 C488.2,615.3 489.7,629.9 485.3,638.0 C480.9,646.0 474.4,656.9 467.8,659.8 C461.2,662.8 451.0,659.8 445.9,655.5 C440.8,651.1 443.7,633.6 437.2,633.6 C430.6,633.6 415.3,652.6 406.5,655.5 C397.7,658.4 389.0,656.9 384.6,651.1 C380.2,645.3 378.0,629.2 380.2,620.4 C382.4,611.7 389.0,603.7 397.7,598.5 C406.5,593.4 425.5,594.9 432.8,589.8 C440.1,584.7 436.4,573.0 441.5,567.9 C446.6,562.8 458.3,564.2 463.4,559.1 C468.5,554.0 467.1,542.4 472.2,537.2 C477.3,532.1 491.9,532.1 494.1,528.5 C496.3,524.8 492.6,518.3 485.3,515.4 C478.0,512.4 460.5,515.4 450.3,511.0 C440.1,506.6 431.3,496.4 424.0,489.1 C416.7,481.8 408.7,475.9 406.5,467.2 C404.3,458.4 407.2,446.0 410.9,436.5 C414.5,427.0 420.4,418.3 428.4,410.3 C436.4,402.2 448.1,393.5 459.1,388.4 C470.0,383.3 480.9,379.6 494.1,379.6Z" fill="#cbcbcb" filter="url(#b6)"/>
<path d="M358.0,575.0 C363.8,570.8 372.2,566.2 380.0,565.0 C387.8,563.8 398.7,564.7 405.0,568.0 C411.3,571.3 417.2,578.8 418.0,585.0 C418.8,591.2 413.8,598.3 410.0,605.0 C406.2,611.7 396.7,618.3 395.0,625.0 C393.3,631.7 401.7,640.0 400.0,645.0 C398.3,650.0 390.8,655.8 385.0,655.0 C379.2,654.2 370.8,646.7 365.0,640.0 C359.2,633.3 353.3,623.3 350.0,615.0 C346.7,606.7 343.7,596.7 345.0,590.0 C346.3,583.3 352.2,579.2 358.0,575.0Z" fill="#d2d2d2" fill-opacity="0.75" filter="url(#b5)"/>
<path d="M325.0,600.0 C330.0,597.5 340.8,595.0 345.0,600.0 C349.2,605.0 351.7,621.7 350.0,630.0 C348.3,638.3 340.3,648.3 335.0,650.0 C329.7,651.7 321.3,645.8 318.0,640.0 C314.7,634.2 313.8,621.7 315.0,615.0 C316.2,608.3 320.0,602.5 325.0,600.0Z" fill="#d2d2d2" fill-opacity="0.75" filter="url(#b5)"/>
<path d="M505.0,540.0 C512.5,531.7 530.0,525.0 540.0,525.0 C550.0,525.0 560.0,530.8 565.0,540.0 C570.0,549.2 571.7,568.3 570.0,580.0 C568.3,591.7 561.7,602.5 555.0,610.0 C548.3,617.5 538.3,625.0 530.0,625.0 C521.7,625.0 510.8,618.3 505.0,610.0 C499.2,601.7 495.0,586.7 495.0,575.0 C495.0,563.3 497.5,548.3 505.0,540.0Z" fill="#d2d2d2" fill-opacity="0.75" filter="url(#b5)"/>
<path d="M417.0,460.0 C415.7,450.3 417.5,438.7 420.0,430.0 C422.5,421.3 426.2,413.8 432.0,408.0 C437.8,402.2 445.3,397.8 455.0,395.0 C464.7,392.2 479.2,391.0 490.0,391.0 C500.8,391.0 510.8,391.8 520.0,395.0 C529.2,398.2 538.7,403.3 545.0,410.0 C551.3,416.7 555.0,425.7 558.0,435.0 C561.0,444.3 563.3,456.0 563.0,466.0 C562.7,476.0 560.7,487.3 556.0,495.0 C551.3,502.7 542.7,508.2 535.0,512.0 C527.3,515.8 519.2,517.3 510.0,518.0 C500.8,518.7 490.0,518.2 480.0,516.0 C470.0,513.8 458.7,509.7 450.0,505.0 C441.3,500.3 433.5,495.5 428.0,488.0 C422.5,480.5 418.3,469.7 417.0,460.0Z" fill="#dadada" filter="url(#b8)"/>
<path d="M487.4,390.0 C494.9,388.5 511.6,386.2 521.0,387.7 C530.4,389.2 538.0,392.6 543.6,399.0 C549.2,405.4 552.9,414.4 554.8,426.0 C556.7,437.6 556.7,457.0 554.8,468.6 C552.9,480.2 549.2,490.0 543.6,495.6 C538.0,501.2 528.5,502.0 521.0,502.4 C513.5,502.8 503.1,501.6 498.6,497.9 C494.1,494.1 492.5,485.5 494.0,479.9 C495.5,474.2 506.5,469.6 507.6,464.0 C508.7,458.4 504.9,449.4 500.8,446.0 C496.7,442.6 488.1,442.8 482.9,443.9 C477.7,445.0 472.8,454.4 469.4,452.9 C466.0,451.4 463.4,441.6 462.6,434.9 C461.9,428.1 462.7,418.8 464.9,412.4 C467.1,406.0 472.2,400.4 476.0,396.7 C479.8,393.0 479.9,391.5 487.4,390.0Z" fill="#e7e7e7" filter="url(#b4)"/>
</g>
<g id="eye">
<path d="M493.5,457.5 C494.2,458.7 494.3,460.5 493.8,462.1 C493.2,463.7 491.8,465.7 490.3,467.1 C488.7,468.5 486.4,469.8 484.4,470.5 C482.4,471.1 480.0,471.3 478.4,471.0 C476.7,470.7 475.2,469.7 474.5,468.5 C473.8,467.3 473.7,465.5 474.2,463.9 C474.8,462.3 476.2,460.3 477.7,458.9 C479.3,457.5 481.6,456.2 483.6,455.5 C485.6,454.9 488.0,454.7 489.6,455.0 C491.3,455.3 492.8,456.3 493.5,457.5Z" fill="#d0d0d0" filter="url(#b3)" opacity="0.9"/>
<ellipse cx="490.5" cy="457" rx="8" ry="6.5" fill="#c1c1c1" filter="url(#b2)"/>
<ellipse cx="490.5" cy="456.5" rx="4.5" ry="3.5" fill="#a2a2a2" filter="url(#b2)"/>
</g>
<g id="eyeL">
<path d="M493.5,457.5 C494.2,458.7 494.3,460.5 493.8,462.1 C493.2,463.7 491.8,465.7 490.3,467.1 C488.7,468.5 486.4,469.8 484.4,470.5 C482.4,471.1 480.0,471.3 478.4,471.0 C476.7,470.7 475.2,469.7 474.5,468.5 C473.8,467.3 473.7,465.5 474.2,463.9 C474.8,462.3 476.2,460.3 477.7,458.9 C479.3,457.5 481.6,456.2 483.6,455.5 C485.6,454.9 488.0,454.7 489.6,455.0 C491.3,455.3 492.8,456.3 493.5,457.5Z" fill="#d0d0d0" filter="url(#b3)" opacity="0.9"/>
<ellipse cx="490.5" cy="457" rx="9" ry="7.5" fill="#bdbdbd" filter="url(#b2)"/>
<ellipse cx="490.3" cy="456.3" rx="6.2" ry="5" fill="#6e6e6e" filter="url(#b2)"/>
</g>
<path id="wisp1" d="M113.0,500.0 C117.5,483.3 129.2,431.0 140.0,400.0 C150.8,369.0 164.7,336.0 178.0,314.0 C191.3,292.0 204.3,281.3 220.0,268.0 C235.7,254.7 255.3,244.5 272.0,234.0 C288.7,223.5 304.5,212.8 320.0,205.0 C335.5,197.2 348.3,192.5 365.0,187.0 C381.7,181.5 400.5,175.8 420.0,172.0 C439.5,168.2 471.7,165.3 482.0,164.0" fill="none"/>
<path id="wisp2" d="M150.0,560.0 C153.3,545.0 161.7,498.3 170.0,470.0 C178.3,441.7 186.7,415.0 200.0,390.0 C213.3,365.0 233.3,338.3 250.0,320.0 C266.7,301.7 291.7,286.7 300.0,280.0" fill="none"/>
</defs>
<rect x="104.5" y="101.5" width="728" height="727.3" fill="#000"/>
<g clip-path="url(#clipD)"><g filter="url(#noiseL)">
<rect x="90" y="90" width="700" height="720" fill="#404040"/>
<rect x="90" y="90" width="700" height="720" fill="url(#haloL)"/>
<rect x="90" y="90" width="700" height="720" fill="url(#halo2)"/>
<g mask="url(#bandA)"><g transform="rotate(-62 160 420)"><rect x="-300" y="-300" width="1400" height="1400" filter="url(#stL)"/></g></g>
<g mask="url(#bandB)"><g transform="rotate(-30 330 220)"><rect x="-300" y="-300" width="1400" height="1400" filter="url(#stL)"/></g></g>
<use href="#moat" fill="#4c4c4c" stroke="#4c4c4c" stroke-width="10" filter="url(#b6)" opacity="0.85"/>
<use href="#fringe"/><use href="#cloud"/><use href="#eyeL"/>
</g></g>
<rect x="431.2" y="429.1" width="72.8" height="72.6" fill="#ff0000" fill-opacity="0.4"/>
<g filter="url(#cont)"><g clip-path="url(#clipD)"><g filter="url(#noiseL)">
<rect x="90" y="90" width="700" height="720" fill="#404040"/>
<rect x="90" y="90" width="700" height="720" fill="url(#haloL)"/>
<rect x="90" y="90" width="700" height="720" fill="url(#halo2)"/>
<g mask="url(#bandA)"><g transform="rotate(-62 160 420)"><rect x="-300" y="-300" width="1400" height="1400" filter="url(#stL)"/></g></g>
<g mask="url(#bandB)"><g transform="rotate(-30 330 220)"><rect x="-300" y="-300" width="1400" height="1400" filter="url(#stL)"/></g></g>
<use href="#moat" fill="#4c4c4c" stroke="#4c4c4c" stroke-width="10" filter="url(#b6)" opacity="0.85"/>
<use href="#fringe"/><use href="#cloud"/><use href="#eyeL"/>
</g></g></g>
<path d="M487.6,457.6 q1.5,-3.2 5.2,-3 q0.6,2.6 -2.2,3.8 q-1.8,0.6 -3,-0.8z" fill="#a0283c"/>
<g stroke="#fff" stroke-width="2.6" stroke-dasharray="2.6 4.3" fill="none"><line x1="149.0" y1="103" x2="149.0" y2="827.3"/><line x1="294.7" y1="103" x2="294.7" y2="827.3"/><line x1="440.5" y1="103" x2="440.5" y2="827.3"/><line x1="586.2" y1="103" x2="586.2" y2="827.3"/><line x1="732.0" y1="103" x2="732.0" y2="827.3"/><line x1="106" y1="192.8" x2="831" y2="192.8"/><line x1="106" y1="338.5" x2="831" y2="338.5"/><line x1="106" y1="484.2" x2="831" y2="484.2"/><line x1="106" y1="629.9" x2="831" y2="629.9"/><line x1="106" y1="775.6" x2="831" y2="775.6"/></g>
<text x="0" y="0" font-size="16.5" text-anchor="middle" font-weight="normal" fill="#2a788e" transform="translate(443,508) rotate(38)">−64</text>
<text x="0" y="0" font-size="16.5" text-anchor="middle" font-weight="normal" fill="#22a884" transform="translate(520,521) rotate(-28)">−54</text>
<text x="0" y="0" font-size="16.5" text-anchor="middle" font-weight="normal" fill="#fde725" transform="translate(322,492) rotate(-42)">−31</text>
<text x="0" y="0" font-size="15" text-anchor="middle" font-weight="normal" fill="#fde725" transform="translate(374,438) rotate(-40)">−31</text>
<text x="0" y="0" font-size="14" text-anchor="middle" font-weight="normal" fill="#fde725" transform="translate(617,668) rotate(90)">−31</text>
<g clip-path="url(#clipAx)">
<polyline points="105,350 250,394.5 404.8,441.4 467,464.2" fill="none" stroke="#0000ff" stroke-width="3" stroke-dasharray="3 4.2"/>
<path d="M492.4,463.9l7.6,7.6M492.4,471.5l7.6,-7.6M498.9,465.5l7.6,7.6M498.9,473.1l7.6,-7.6M503.9,468.3l7.6,7.6M503.9,475.9l7.6,-7.6M512.5,472.3l7.6,7.6M512.5,479.9l7.6,-7.6M518.5,469.8l7.6,7.6M518.5,477.4l7.6,-7.6M524.3,471.6l7.6,7.6M524.3,479.2l7.6,-7.6M533.2,470.4l7.6,7.6M533.2,478.0l7.6,-7.6M538.8,478.7l7.6,7.6M538.8,486.3l7.6,-7.6M546.2,480.3l7.6,7.6M546.2,487.9l7.6,-7.6M551.6,478.6l7.6,7.6M551.6,486.2l7.6,-7.6M555.6,484.1l7.6,7.6M555.6,491.7l7.6,-7.6M563.9,487.0l7.6,7.6M563.9,494.6l7.6,-7.6M571.3,483.0l7.6,7.6M571.3,490.6l7.6,-7.6M577.5,488.4l7.6,7.6M577.5,496.0l7.6,-7.6M584.7,487.9l7.6,7.6M584.7,495.5l7.6,-7.6M592.1,490.3l7.6,7.6M592.1,497.9l7.6,-7.6M599.4,494.6l7.6,7.6M599.4,502.2l7.6,-7.6M604.1,489.5l7.6,7.6M604.1,497.1l7.6,-7.6M611.0,490.3l7.6,7.6M611.0,497.9l7.6,-7.6M616.8,491.1l7.6,7.6M616.8,498.7l7.6,-7.6M621.5,486.9l7.6,7.6M621.5,494.5l7.6,-7.6M627.6,485.9l7.6,7.6M627.6,493.5l7.6,-7.6M632.2,483.8l7.6,7.6M632.2,491.4l7.6,-7.6M640.6,481.0l7.6,7.6M640.6,488.6l7.6,-7.6M644.8,484.1l7.6,7.6M644.8,491.7l7.6,-7.6M651.5,483.9l7.6,7.6M651.5,491.5l7.6,-7.6M658.1,483.1l7.6,7.6M658.1,490.7l7.6,-7.6M666.2,483.6l7.6,7.6M666.2,491.2l7.6,-7.6M670.9,485.1l7.6,7.6M670.9,492.7l7.6,-7.6M676.6,488.6l7.6,7.6M676.6,496.2l7.6,-7.6M680.8,494.9l7.6,7.6M680.8,502.5l7.6,-7.6M685.7,496.6l7.6,7.6M685.7,504.2l7.6,-7.6M694.1,493.1l7.6,7.6M694.1,500.7l7.6,-7.6M698.2,493.6l7.6,7.6M698.2,501.2l7.6,-7.6M707.0,496.0l7.6,7.6M707.0,503.6l7.6,-7.6M711.4,493.9l7.6,7.6M711.4,501.5l7.6,-7.6M717.2,494.7l7.6,7.6M717.2,502.3l7.6,-7.6M722.8,496.3l7.6,7.6M722.8,503.9l7.6,-7.6M731.4,498.0l7.6,7.6M731.4,505.6l7.6,-7.6M736.9,497.9l7.6,7.6M736.9,505.5l7.6,-7.6M740.6,493.1l7.6,7.6M740.6,500.7l7.6,-7.6M749.3,496.5l7.6,7.6M749.3,504.1l7.6,-7.6M753.4,497.6l7.6,7.6M753.4,505.2l7.6,-7.6M759.9,496.6l7.6,7.6M759.9,504.2l7.6,-7.6M764.7,492.1l7.6,7.6M764.7,499.7l7.6,-7.6M771.0,491.7l7.6,7.6M771.0,499.3l7.6,-7.6M777.1,497.7l7.6,7.6M777.1,505.3l7.6,-7.6M783.2,491.3l7.6,7.6M783.2,498.9l7.6,-7.6M788.6,492.6l7.6,7.6M788.6,500.2l7.6,-7.6M797.1,494.2l7.6,7.6M797.1,501.8l7.6,-7.6M802.0,492.0l7.6,7.6M802.0,499.6l7.6,-7.6M810.4,493.9l7.6,7.6M810.4,501.5l7.6,-7.6M814.5,490.9l7.6,7.6M814.5,498.5l7.6,-7.6M820.5,491.3l7.6,7.6M820.5,498.9l7.6,-7.6M828.7,490.7l7.6,7.6M828.7,498.3l7.6,-7.6M603.0,520.6l7.6,7.6M603.0,528.2l7.6,-7.6M623.2,528.6l7.6,7.6M623.2,536.2l7.6,-7.6M617.4,505.4l7.6,7.6M617.4,513.0l7.6,-7.6M655.1,511.9l7.6,7.6M655.1,519.5l7.6,-7.6M600.2,517.2l7.6,7.6M600.2,524.8l7.6,-7.6M619.2,508.2l7.6,7.6M619.2,515.8l7.6,-7.6M636.2,477.2l7.6,7.6M636.2,484.8l7.6,-7.6M633.2,493.2l7.6,7.6M633.2,500.8l7.6,-7.6M756.2,499.2l7.6,7.6M756.2,506.8l7.6,-7.6M766.2,500.2l7.6,7.6M766.2,507.8l7.6,-7.6M786.2,501.2l7.6,7.6M786.2,508.8l7.6,-7.6M808.2,499.2l7.6,7.6M808.2,506.8l7.6,-7.6M818.2,488.2l7.6,7.6M818.2,495.8l7.6,-7.6M825.2,486.2l7.6,7.6M825.2,493.8l7.6,-7.6" stroke="#00bfbf" stroke-width="3" fill="none"/>
<rect x="588.5" y="497.5" width="9" height="9" fill="#bf00bf"/>
<rect x="623.3" y="498.9" width="9" height="9" fill="#bf00bf"/>
<rect x="633.4" y="499.5" width="9" height="9" fill="#bf00bf"/>
<rect x="792.5" y="491.0" width="9" height="9" fill="#bf00bf"/>
<rect x="825.0" y="488.1" width="9" height="9" fill="#bf00bf"/>
<polyline points="497,470.3 507.7,468.6 515.7,473.9 525.5,473 528.2,477.5 537,479.3 538,474.8 560.2,487.3 581.6,490.8 594.5,499.1 606.8,524.4 627,532.4 621.2,509.2 658.9,515.7 637.2,499.1 637.2,481.7 648,486.8 661,487.5 674,491.1 688.5,501.2 710.2,499 740,498 770,499.5 800,499 831,498" fill="none" stroke="#008000" stroke-width="3.2" stroke-linejoin="miter"/>
<polyline points="467,464.2 535.4,484.2 601.4,499.1 659.4,499.3 717.5,499.6 782.6,499.6 833,497.5" fill="none" stroke="#0000ff" stroke-width="2.6"/>
<circle cx="535.4" cy="484.2" r="4.2" fill="#0000ff"/>
<circle cx="601.4" cy="499.1" r="4.2" fill="#0000ff"/>
<circle cx="659.4" cy="499.3" r="4.2" fill="#0000ff"/>
<circle cx="717.5" cy="499.6" r="4.2" fill="#0000ff"/>
<circle cx="782.6" cy="499.6" r="4.2" fill="#0000ff"/>
<path d="M471,465.5l2,-4M477,467.5l2.5,-4.5M483,469.5l3,-5M489.5,471.5l2.5,-4.5M495,473.5l3.5,-5.5" stroke="#ff0000" stroke-width="3.4" fill="none"/>
<polyline points="467,464.2 497,474 570.7,492.4 570.7,499.2 592.3,499.2 593.7,480.8 598,479.8 603,481.2 603.5,486 608,481.5 619,484.6 626,485.2 627,491 630,486 650,488 665,489.5 687.8,491.1 687,498.8 720,498.8 750,497.5 773.9,497.9 783,497.2 786,497.2 782.5,508 790,497.2 795,497.2 791.5,508 798,497.2 804,497.2 800.5,508 808,497.5 820,498.5 832,498.8" fill="none" stroke="#ff0000" stroke-width="4" stroke-linejoin="miter"/>
<path d="M400.3,436.9l9,9M400.3,445.9l9,-9" stroke="#ff0000" stroke-width="3.3" fill="none"/>
</g>
<rect x="439.2" y="107.6" width="386.5" height="189.7" rx="4" ry="4" fill="#fff" fill-opacity="0.8" stroke="#ccc" stroke-opacity="0.8" stroke-width="2"/>
<text x="490.6" y="127.8" font-size="15.6" text-anchor="start" font-weight="normal" fill="#000" >AMSU Locations [NOAAMC/0642Z 70 987]</text>
<text x="490.6" y="150.6" font-size="15.6" text-anchor="start" font-weight="normal" fill="#000" >ARCHER Locations [1532Z]</text>
<text x="490.6" y="173.2" font-size="15.6" text-anchor="start" font-weight="normal" fill="#000" >SATCON Locations [1740Z 101 966]</text>
<text x="490.6" y="195.9" font-size="15.6" text-anchor="start" font-weight="normal" fill="#000" >ADT Tracks [1740Z 109.8 955.6]</text>
<text x="490.6" y="218.7" font-size="15.6" text-anchor="start" font-weight="normal" fill="#000" >JTWC/NHC Forecast [05/1200Z]</text>
<text x="490.6" y="241.5" font-size="15.6" text-anchor="start" font-weight="normal" fill="#000" >JTWC/NHC Tracks [05/1200Z]</text>
<text x="490.6" y="264.0" font-size="15.6" text-anchor="start" font-weight="normal" fill="#000" >MESOSCALE/TARGET Location</text>
<text x="490.6" y="286.7" font-size="15.6" text-anchor="start" font-weight="normal" fill="#000" >Floater Locater</text>
<rect x="457.8" y="117.7" width="9" height="9" fill="#bf00bf"/>
<rect x="457.8" y="140.5" width="9" height="9" fill="#bf00bf"/>
<path d="M458.7,164.0l7.2,7.2M458.7,171.2l7.2,-7.2" stroke="#00bfbf" stroke-width="2.8" fill="none"/>
<line x1="446" y1="190.3" x2="479.7" y2="190.3" stroke="#008000" stroke-width="2.6"/>
<line x1="446" y1="213.1" x2="479.7" y2="213.1" stroke="#0000ff" stroke-width="2.6" stroke-dasharray="2.6 4.3" stroke-dashoffset="-1"/>
<line x1="446" y1="235.9" x2="479.7" y2="235.9" stroke="#0000ff" stroke-width="2.6"/><circle cx="462.3" cy="235.9" r="4.2" fill="#0000ff"/>
<path d="M457.8,253.89999999999998l9,9M457.8,262.9l9,-9" stroke="#ff0000" stroke-width="3.3" fill="none"/>
<line x1="446" y1="281.09999999999997" x2="479.7" y2="281.09999999999997" stroke="#ff0000" stroke-width="3.3"/>
<rect x="101.8" y="805.5" width="308.5" height="25.3" rx="3.5" ry="3.5" fill="#000"/>
<text x="107.4" y="821.9" font-size="17.3" text-anchor="start" font-weight="bold" fill="#fff" >Copyright © 2020-2025 Dapiya</text>
<g transform="translate(875,0)">
<g clip-path="url(#clipD)"><g filter="url(#cmapR)">
<rect x="90" y="90" width="700" height="720" fill="url(#bgR)"/>
<rect x="90" y="90" width="700" height="720" fill="url(#eastR)" mask="url(#eastM)"/>
<rect x="90" y="90" width="700" height="720" fill="url(#blR)"/>
<rect x="90" y="90" width="700" height="720" fill="url(#cyL)"/>
<g mask="url(#bandA)"><g transform="rotate(-62 160 420)"><rect x="-300" y="-300" width="1400" height="1400" filter="url(#stR)"/></g></g>
<g mask="url(#bandB)"><g transform="rotate(-30 330 220)"><rect x="-300" y="-300" width="1400" height="1400" filter="url(#stR)"/></g></g>
<path d="M445.9,338.0 C451.8,337.3 459.1,338.4 463.4,344.6 C467.8,350.8 468.5,371.6 472.2,375.2 C475.8,378.9 475.8,370.1 485.3,366.5 C494.8,362.8 523.3,351.9 529.1,353.3 C534.9,354.8 513.1,368.7 520.4,375.2 C527.6,381.8 564.9,386.9 572.9,392.7 C580.9,398.6 564.9,405.2 568.5,410.3 C572.2,415.4 586.8,416.1 594.8,423.4 C602.8,430.7 614.5,445.3 616.7,454.1 C618.9,462.8 607.2,470.1 607.9,475.9 C608.7,481.8 620.3,479.6 621.1,489.1 C621.8,498.6 613.8,519.0 612.3,532.9 C610.8,546.7 613.8,559.9 612.3,572.3 C610.8,584.7 608.7,604.4 603.5,607.3 C598.4,610.2 586.8,588.3 581.7,589.8 C576.5,591.2 577.3,611.0 572.9,616.1 C568.5,621.2 559.0,615.3 555.4,620.4 C551.7,625.5 554.7,640.1 551.0,646.7 C547.4,653.3 538.6,653.3 533.5,659.8 C528.4,666.4 526.9,681.0 520.4,686.1 C513.8,691.2 502.1,686.8 494.1,690.5 C486.1,694.1 479.5,706.6 472.2,708.0 C464.9,709.5 454.1,704.2 450.3,699.3 C446.5,694.3 450.9,683.0 449.2,678.5 C447.5,674.0 441.8,675.9 440.0,672.3 C438.2,668.7 440.6,658.4 438.5,656.9 C436.4,655.4 431.0,661.3 427.7,663.1 C424.4,664.9 421.1,665.7 418.5,667.7 C415.9,669.8 416.4,673.6 412.3,675.4 C408.2,677.2 398.9,676.2 393.8,678.5 C388.7,680.8 385.1,685.6 381.5,689.2 C377.9,692.8 376.4,700.5 372.3,700.0 C368.2,699.5 359.5,690.3 356.9,686.2 C354.3,682.1 359.5,679.0 356.9,675.4 C354.3,671.8 346.4,668.2 341.5,664.6 C336.6,661.0 329.2,657.6 327.7,653.8 C326.2,649.9 332.8,645.6 332.3,641.5 C331.8,637.4 327.2,633.8 324.6,629.2 C322.0,624.6 319.2,618.9 316.9,613.8 C314.6,608.7 311.8,603.6 310.8,598.5 C309.8,593.4 311.6,589.3 310.8,583.1 C310.0,576.9 303.6,566.6 306.2,561.5 C308.8,556.4 320.8,553.8 326.2,552.3 C331.6,550.8 336.2,554.9 338.5,552.3 C340.8,549.7 338.5,539.7 340.0,536.9 C341.5,534.1 345.4,533.8 347.7,535.4 C350.0,537.0 351.8,543.6 353.8,546.2 C355.9,548.8 356.4,550.5 360.0,550.8 C363.6,551.0 369.2,547.7 375.4,547.7 C381.5,547.7 390.2,551.0 396.9,550.8 C403.6,550.5 411.3,547.5 415.4,546.2 C419.5,544.9 419.4,541.8 421.5,543.1 C423.6,544.4 425.1,551.0 427.7,553.8 C430.3,556.6 434.3,560.2 436.9,560.0 C439.5,559.8 440.0,555.6 443.1,552.3 C446.2,549.0 452.6,544.1 455.4,540.0 C458.2,535.9 461.0,530.8 460.0,527.7 C459.0,524.6 452.5,523.0 449.2,521.5 C445.9,520.0 445.1,518.5 440.0,518.5 C434.9,518.5 423.4,521.5 418.5,521.5 C413.6,521.5 411.8,520.8 410.8,518.5 C409.8,516.2 413.9,510.0 412.3,507.7 C410.8,505.4 404.1,503.8 401.5,504.6 C398.9,505.4 399.2,510.0 396.9,512.3 C394.6,514.6 390.8,517.0 387.7,518.5 C384.6,520.0 382.6,521.5 378.5,521.5 C374.4,521.5 369.3,520.3 363.1,518.5 C356.9,516.7 348.7,513.1 341.5,510.8 C334.3,508.5 325.1,506.7 320.0,504.6 C314.9,502.6 310.0,501.3 310.8,498.5 C311.6,495.7 318.9,491.1 325.0,488.0 C331.1,484.9 341.4,483.2 347.7,480.0 C354.0,476.8 359.9,473.2 363.0,469.0 C366.1,464.8 364.0,459.8 366.0,455.0 C368.0,450.2 371.9,443.8 375.0,440.0 C378.1,436.2 383.7,436.4 384.6,432.2 C385.5,428.0 378.7,421.2 380.2,414.6 C381.7,408.0 392.7,399.3 393.4,392.7 C394.1,386.1 382.4,381.0 384.6,375.2 C386.8,369.4 399.2,362.1 406.5,357.7 C413.8,353.3 421.8,352.3 428.4,349.0 C435.0,345.7 440.1,338.8 445.9,338.0Z" fill="#a8a8a8" stroke="#a8a8a8" stroke-width="56" stroke-linejoin="round" filter="url(#b14)" opacity="0.55"/>
<use href="#cloud"/><use href="#fringe" style="mix-blend-mode:lighten"/>
<g filter="url(#rag1)" style="mix-blend-mode:lighten"><path d="M388,456 A109,109 0 0 1 606,456 L604,490 Q590,505 560,500 L470,496 L440,490 L400,490 Z" fill="#c1c1c1" filter="url(#b5)"/></g>
<use href="#eye"/>
</g></g>
</g>
<g stroke="#fff" stroke-width="2.6" stroke-dasharray="2.6 4.3" fill="none"><line x1="1024.0" y1="103" x2="1024.0" y2="786"/><line x1="1169.7" y1="103" x2="1169.7" y2="786"/><line x1="1315.5" y1="103" x2="1315.5" y2="786"/><line x1="1461.2" y1="103" x2="1461.2" y2="786"/><line x1="1607.0" y1="103" x2="1607.0" y2="786"/><line x1="981" y1="192.8" x2="1627" y2="192.8"/><line x1="981" y1="338.5" x2="1627" y2="338.5"/><line x1="981" y1="484.2" x2="1627" y2="484.2"/><line x1="981" y1="629.9" x2="1627" y2="629.9"/><line x1="981" y1="775.6" x2="1627" y2="775.6"/></g>
<rect x="104.5" y="101.5" width="728.0" height="727.3" fill="none" stroke="#000" stroke-width="3.0"/>
<rect x="979.2" y="101.5" width="728.0" height="727.3" fill="none" stroke="#000" stroke-width="3.0"/>
<defs><linearGradient id="gbar" x1="0" y1="0" x2="0" y2="1"><stop offset="0" stop-color="#000"/><stop offset="1" stop-color="#fff"/></linearGradient>
<linearGradient id="cbar" x1="0" y1="0" x2="0" y2="1"><stop offset="0.0000" stop-color="rgb(255,255,255)"/><stop offset="0.3333" stop-color="rgb(255,255,255)"/><stop offset="0.3333" stop-color="rgb(94,17,104)"/><stop offset="0.3667" stop-color="rgb(69,53,143)"/><stop offset="0.3867" stop-color="rgb(48,80,176)"/><stop offset="0.4067" stop-color="rgb(28,98,208)"/><stop offset="0.4267" stop-color="rgb(0,128,255)"/><stop offset="0.4467" stop-color="rgb(29,149,245)"/><stop offset="0.4667" stop-color="rgb(57,168,245)"/><stop offset="0.4900" stop-color="rgb(90,202,248)"/><stop offset="0.5133" stop-color="rgb(128,255,255)"/><stop offset="0.5333" stop-color="rgb(128,255,200)"/><stop offset="0.5667" stop-color="rgb(128,255,128)"/><stop offset="0.5840" stop-color="rgb(176,255,120)"/><stop offset="0.6067" stop-color="rgb(240,255,120)"/><stop offset="0.6167" stop-color="rgb(255,248,120)"/><stop offset="0.6367" stop-color="rgb(255,208,80)"/><stop offset="0.6667" stop-color="rgb(255,176,48)"/><stop offset="0.6980" stop-color="rgb(255,128,0)"/><stop offset="0.7200" stop-color="rgb(224,104,8)"/><stop offset="0.7333" stop-color="rgb(200,80,8)"/><stop offset="0.7567" stop-color="rgb(168,48,0)"/><stop offset="0.7767" stop-color="rgb(144,20,0)"/><stop offset="0.7967" stop-color="rgb(128,0,0)"/><stop offset="1.0000" stop-color="rgb(128,0,0)"/></linearGradient></defs>
<rect x="839.3" y="100.8" width="15.2" height="728.4" fill="url(#gbar)" stroke="#000" stroke-width="1"/>
<rect x="1714.6" y="100.8" width="15.0" height="728.4" fill="url(#cbar)" stroke="#000" stroke-width="1"/>
<text x="861.5" y="161.70000000000002" font-size="16.9" text-anchor="start" font-weight="normal" fill="#000" >40</text>
<text x="861.5" y="215.73000000000002" font-size="16.9" text-anchor="start" font-weight="normal" fill="#000" >30</text>
<text x="861.5" y="269.75999999999993" font-size="16.9" text-anchor="start" font-weight="normal" fill="#000" >20</text>
<text x="861.5" y="323.78999999999996" font-size="16.9" text-anchor="start" font-weight="normal" fill="#000" >10</text>
<text x="861.5" y="377.81999999999994" font-size="16.9" text-anchor="start" font-weight="normal" fill="#000" >0</text>
<text x="861.5" y="431.8499999999999" font-size="16.9" text-anchor="start" font-weight="normal" fill="#000" >−10</text>
<text x="861.5" y="485.8799999999999" font-size="16.9" text-anchor="start" font-weight="normal" fill="#000" >−20</text>
<text x="861.5" y="539.91" font-size="16.9" text-anchor="start" font-weight="normal" fill="#000" >−30</text>
<text x="861.5" y="593.9399999999999" font-size="16.9" text-anchor="start" font-weight="normal" fill="#000" >−40</text>
<text x="861.5" y="647.9699999999999" font-size="16.9" text-anchor="start" font-weight="normal" fill="#000" >−50</text>
<text x="861.5" y="701.9999999999999" font-size="16.9" text-anchor="start" font-weight="normal" fill="#000" >−60</text>
<text x="861.5" y="756.0299999999999" font-size="16.9" text-anchor="start" font-weight="normal" fill="#000" >−70</text>
<text x="861.5" y="810.0599999999998" font-size="16.9" text-anchor="start" font-weight="normal" fill="#000" >−80</text>
<text x="1736.5" y="157.5" font-size="16.9" text-anchor="start" font-weight="normal" fill="#000" >40</text>
<text x="1736.5" y="205.98" font-size="16.9" text-anchor="start" font-weight="normal" fill="#000" >30</text>
<text x="1736.5" y="254.45999999999998" font-size="16.9" text-anchor="start" font-weight="normal" fill="#000" >20</text>
<text x="1736.5" y="302.93999999999994" font-size="16.9" text-anchor="start" font-weight="normal" fill="#000" >10</text>
<text x="1736.5" y="351.41999999999996" font-size="16.9" text-anchor="start" font-weight="normal" fill="#000" >0</text>
<text x="1736.5" y="399.9" font-size="16.9" text-anchor="start" font-weight="normal" fill="#000" >−10</text>
<text x="1736.5" y="448.37999999999994" font-size="16.9" text-anchor="start" font-weight="normal" fill="#000" >−20</text>
<text x="1736.5" y="496.85999999999996" font-size="16.9" text-anchor="start" font-weight="normal" fill="#000" >−30</text>
<text x="1736.5" y="545.3399999999999" font-size="16.9" text-anchor="start" font-weight="normal" fill="#000" >−40</text>
<text x="1736.5" y="593.8199999999999" font-size="16.9" text-anchor="start" font-weight="normal" fill="#000" >−50</text>
<text x="1736.5" y="642.3" font-size="16.9" text-anchor="start" font-weight="normal" fill="#000" >−60</text>
<text x="1736.5" y="690.78" font-size="16.9" text-anchor="start" font-weight="normal" fill="#000" >−70</text>
<text x="1736.5" y="739.26" font-size="16.9" text-anchor="start" font-weight="normal" fill="#000" >−80</text>
<text x="1736.5" y="787.74" font-size="16.9" text-anchor="start" font-weight="normal" fill="#000" >−90</text>
<text x="847.5" y="93.6" font-size="17.3" text-anchor="start" font-weight="normal" fill="#000" >°C</text>
<text x="1723.0" y="93.6" font-size="17.3" text-anchor="start" font-weight="normal" fill="#000" >°C</text>
<text x="104.2" y="51.2" font-size="26" text-anchor="start" font-weight="normal" fill="#000" >GOES-18 BAND14-DIAS MESOSCALE</text>
<text x="104.2" y="81.0" font-size="26" text-anchor="start" font-weight="normal" fill="#000" >Time: 2025/09/05 18:07:25Z</text>
<text x="1706.3" y="38.6" font-size="17.3" text-anchor="end" font-weight="normal" fill="#000" >[dmax, dmin](BAND14)=(1.161, -77.528)</text>
<text x="1706.3" y="59.6" font-size="17.3" text-anchor="end" font-weight="normal" fill="#000" >[dmax, dmin](AWV)=(-34.733, -76.116)</text>
<text x="1706.3" y="80.8" font-size="17.3" text-anchor="end" font-weight="normal" fill="#000" >11E.KIKO | 100kt, 962mb</text>
<text x="95.5" y="197.4" font-size="13.2" text-anchor="end" font-weight="normal" fill="#000" >18°N</text>
<text x="95.5" y="343.1" font-size="13.2" text-anchor="end" font-weight="normal" fill="#000" >16°N</text>
<text x="95.5" y="488.8" font-size="13.2" text-anchor="end" font-weight="normal" fill="#000" >14°N</text>
<text x="95.5" y="634.5" font-size="13.2" text-anchor="end" font-weight="normal" fill="#000" >12°N</text>
<text x="95.5" y="780.2" font-size="13.2" text-anchor="end" font-weight="normal" fill="#000" >10°N</text>
<text x="149.0" y="850.8" font-size="13.2" text-anchor="middle" font-weight="normal" fill="#000" >142°W</text>
<text x="294.7" y="850.8" font-size="13.2" text-anchor="middle" font-weight="normal" fill="#000" >140°W</text>
<text x="440.5" y="850.8" font-size="13.2" text-anchor="middle" font-weight="normal" fill="#000" >138°W</text>
<text x="586.2" y="850.8" font-size="13.2" text-anchor="middle" font-weight="normal" fill="#000" >136°W</text>
<text x="732.0" y="850.8" font-size="13.2" text-anchor="middle" font-weight="normal" fill="#000" >134°W</text>
<text x="970.0" y="197.4" font-size="13.2" text-anchor="end" font-weight="normal" fill="#000" >18°N</text>
<text x="970.0" y="343.1" font-size="13.2" text-anchor="end" font-weight="normal" fill="#000" >16°N</text>
<text x="970.0" y="488.8" font-size="13.2" text-anchor="end" font-weight="normal" fill="#000" >14°N</text>
<text x="970.0" y="634.5" font-size="13.2" text-anchor="end" font-weight="normal" fill="#000" >12°N</text>
<text x="970.0" y="780.2" font-size="13.2" text-anchor="end" font-weight="normal" fill="#000" >10°N</text>
<text x="1024.0" y="850.8" font-size="13.2" text-anchor="middle" font-weight="normal" fill="#000" >142°W</text>
<text x="1169.7" y="850.8" font-size="13.2" text-anchor="middle" font-weight="normal" fill="#000" >140°W</text>
<text x="1315.5" y="850.8" font-size="13.2" text-anchor="middle" font-weight="normal" fill="#000" >138°W</text>
<text x="1461.2" y="850.8" font-size="13.2" text-anchor="middle" font-weight="normal" fill="#000" >136°W</text>
<text x="1607.0" y="850.8" font-size="13.2" text-anchor="middle" font-weight="normal" fill="#000" >134°W</text>
<text x="478.5" y="882.0" font-size="22.5" text-anchor="middle" font-weight="normal" fill="#000" >Wind / Pres. / ACE Diagnosis</text>
<polyline points="135.5,1260.9 148.0,1260.9 160.5,1260.9 173.0,1260.9 185.4,1260.9 197.9,1260.9 210.4,1260.9 222.9,1260.9 235.4,1260.9 247.9,1260.9 260.4,1260.9 272.8,1244.7 285.3,1244.7 297.8,1244.7 310.3,1228.5 322.8,1212.2 335.3,1212.2 347.8,1196.0 360.2,1196.0 372.7,1179.8 385.2,1147.3 397.7,1147.3 410.2,1114.9 422.7,1082.4 435.2,1066.2 447.7,1033.8 460.1,1033.8 472.6,1033.8 485.1,968.9 497.6,920.2 510.1,920.2 522.6,952.6 535.1,952.6 547.5,952.6 560.0,968.9 572.5,1001.3" fill="none" stroke="#0000ff" stroke-width="5.2" stroke-linejoin="round"/>
<polyline points="572.8,1001.2 592.0,1000.9 623.9,984.8 638.3,984.8 695.8,1017.5 731.7,1106.2 748.5,1106.2 759.7,1110.2 781.2,1177.3 806.8,1179.2 818.4,1208.0" fill="none" stroke="#0000ff" stroke-width="5.2" stroke-dasharray="5.5 8.4" stroke-linejoin="round"/>
<polyline points="135.5,1635.9 148.0,1635.9 160.5,1635.9 173.0,1635.9 185.4,1635.9 197.9,1635.9 210.4,1635.9 222.9,1635.9 235.4,1635.9 247.9,1635.9 260.4,1635.9 272.8,1635.9 285.3,1635.9 297.8,1635.9 310.3,1635.9 322.8,1634.5 335.3,1633.1 347.8,1631.3 360.2,1629.5 372.7,1627.2 385.2,1623.8 397.7,1620.3 410.2,1615.5 422.7,1609.2 435.2,1601.9 447.7,1592.7 460.1,1583.5 472.6,1574.4 485.1,1560.6 497.6,1542.9 510.1,1525.2 522.6,1510.2 535.1,1495.2 547.5,1480.2 560.0,1466.5 572.5,1455.1" fill="none" stroke="#008000" stroke-width="5.2" stroke-linejoin="round"/>
<polyline points="574.7,1455.1 623.6,1405.2 672.6,1356.9 695.0,1338.5 716.7,1323.9 736.0,1314.0 755.9,1306.7 782.8,1300.6 811.5,1295.7" fill="none" stroke="#008000" stroke-width="5.2" stroke-dasharray="5.5 8.4" stroke-linejoin="round"/>
<rect x="113.4" y="913.0" width="279.4" height="62.299999999999955" rx="4" ry="4" fill="#fff" fill-opacity="0.8" stroke="#d4d4d4" stroke-width="2.9"/>
<line x1="119.6" y1="928.8" x2="162" y2="928.8" stroke="#00f" stroke-width="5.2"/>
<line x1="121.5" y1="957.0" x2="162" y2="957.0" stroke="#00f" stroke-width="5.2" stroke-dasharray="5.5 8.4"/>
<text x="174.8" y="935.9" font-size="19.0" text-anchor="start" font-weight="normal" fill="#000" >Wind[max=125]</text>
<text x="174.8" y="964.0" font-size="19.0" text-anchor="start" font-weight="normal" fill="#000" >Wind Fore.[max=105]</text>
<polyline points="135.5,920.6 148.0,920.6 160.5,920.6 173.0,920.6 185.4,920.6 197.9,920.6 210.4,920.6 222.9,920.6 235.4,920.6 247.9,920.6 260.4,920.6 272.8,920.6 285.3,925.8 297.8,925.8 310.3,925.8 322.8,936.1 335.3,941.2 347.8,951.6 360.2,951.6 372.7,972.2 385.2,977.4 397.7,987.7 410.2,1013.5 422.7,1039.3 435.2,1054.8 447.7,1111.5 460.1,1111.5 472.6,1111.5 485.1,1173.4 497.6,1261.2 510.1,1261.2 522.6,1225.0 535.1,1225.0 547.5,1225.0 560.0,1204.4 572.5,1168.3" fill="none" stroke="#1f77b4" stroke-width="5.2" stroke-linejoin="round"/>
<rect x="624.8" y="912.0" width="219.5" height="35.799999999999955" rx="4" ry="4" fill="#fff" fill-opacity="0.8" stroke="#d4d4d4" stroke-width="2.9"/>
<line x1="631.5" y1="928.6" x2="674" y2="928.6" stroke="#1f77b4" stroke-width="5.2"/>
<text x="687.5" y="936.0" font-size="19.0" text-anchor="start" font-weight="normal" fill="#000" >Pres.[min=944]</text>
<rect x="113.4" y="1287.5" width="313.1" height="62.700000000000045" rx="4" ry="4" fill="#fff" fill-opacity="0.8" stroke="#d4d4d4" stroke-width="2.9"/>
<line x1="119.6" y1="1303.6" x2="162" y2="1303.6" stroke="#008000" stroke-width="5.2"/>
<line x1="121.5" y1="1332.0" x2="162" y2="1332.0" stroke="#008000" stroke-width="5.2" stroke-dasharray="5.5 8.4"/>
<text x="174.5" y="1311.0" font-size="19.0" text-anchor="start" font-weight="normal" fill="#000" >ACE[max=15.94]</text>
<text x="174.5" y="1339.3" font-size="19.0" text-anchor="start" font-weight="normal" fill="#000" >ACE Fore.[max=30.0069]</text>
<rect x="104.5" y="903.7" width="750.5" height="374.79999999999995" fill="none" stroke="#000" stroke-width="3"/>
<rect x="104.5" y="1278.5" width="750.5" height="374.0999999999999" fill="none" stroke="#000" stroke-width="3"/>
<text x="78.5" y="1266.3000000000002" font-size="13.2" text-anchor="end" font-weight="normal" fill="#000" >20</text>
<text x="78.5" y="1201.4" font-size="13.2" text-anchor="end" font-weight="normal" fill="#000" >40</text>
<text x="78.5" y="1136.5000000000002" font-size="13.2" text-anchor="end" font-weight="normal" fill="#000" >60</text>
<text x="78.5" y="1071.6000000000001" font-size="13.2" text-anchor="end" font-weight="normal" fill="#000" >80</text>
<text x="78.5" y="1006.7" font-size="13.2" text-anchor="end" font-weight="normal" fill="#000" >100</text>
<text x="78.5" y="941.8000000000001" font-size="13.2" text-anchor="end" font-weight="normal" fill="#000" >120</text>
<text x="78.5" y="1641.3000000000002" font-size="13.2" text-anchor="end" font-weight="normal" fill="#000" >0</text>
<text x="78.5" y="1584.6000000000001" font-size="13.2" text-anchor="end" font-weight="normal" fill="#000" >5</text>
<text x="78.5" y="1527.9" font-size="13.2" text-anchor="end" font-weight="normal" fill="#000" >10</text>
<text x="78.5" y="1471.2000000000003" font-size="13.2" text-anchor="end" font-weight="normal" fill="#000" >15</text>
<text x="78.5" y="1414.5000000000002" font-size="13.2" text-anchor="end" font-weight="normal" fill="#000" >20</text>
<text x="78.5" y="1357.8000000000002" font-size="13.2" text-anchor="end" font-weight="normal" fill="#000" >25</text>
<text x="78.5" y="1301.1000000000001" font-size="13.2" text-anchor="end" font-weight="normal" fill="#000" >30</text>
<text x="879.2" y="1235.5" font-size="13.2" text-anchor="start" font-weight="normal" fill="#000" >950</text>
<text x="879.2" y="1183.8999999999999" font-size="13.2" text-anchor="start" font-weight="normal" fill="#000" >960</text>
<text x="879.2" y="1132.3" font-size="13.2" text-anchor="start" font-weight="normal" fill="#000" >970</text>
<text x="879.2" y="1080.7" font-size="13.2" text-anchor="start" font-weight="normal" fill="#000" >980</text>
<text x="879.2" y="1029.1000000000001" font-size="13.2" text-anchor="start" font-weight="normal" fill="#000" >990</text>
<text x="879.2" y="977.5" font-size="13.2" text-anchor="start" font-weight="normal" fill="#000" >1000</text>
<text x="879.2" y="925.9" font-size="13.2" text-anchor="start" font-weight="normal" fill="#000" >1010</text>
<g stroke="#000" stroke-width="2.5"><line x1="92.5" y1="1260.9" x2="103" y2="1260.9"/><line x1="92.5" y1="1196.0" x2="103" y2="1196.0"/><line x1="92.5" y1="1131.1" x2="103" y2="1131.1"/><line x1="92.5" y1="1066.2" x2="103" y2="1066.2"/><line x1="92.5" y1="1001.3" x2="103" y2="1001.3"/><line x1="92.5" y1="936.4" x2="103" y2="936.4"/><line x1="92.5" y1="1635.9" x2="103" y2="1635.9"/><line x1="92.5" y1="1579.2" x2="103" y2="1579.2"/><line x1="92.5" y1="1522.5" x2="103" y2="1522.5"/><line x1="92.5" y1="1465.8" x2="103" y2="1465.8"/><line x1="92.5" y1="1409.1" x2="103" y2="1409.1"/><line x1="92.5" y1="1352.4" x2="103" y2="1352.4"/><line x1="92.5" y1="1295.7" x2="103" y2="1295.7"/><line x1="856.5" y1="1230.2" x2="867" y2="1230.2"/><line x1="856.5" y1="1178.6" x2="867" y2="1178.6"/><line x1="856.5" y1="1127.0" x2="867" y2="1127.0"/><line x1="856.5" y1="1075.4" x2="867" y2="1075.4"/><line x1="856.5" y1="1023.8" x2="867" y2="1023.8"/><line x1="856.5" y1="972.2" x2="867" y2="972.2"/><line x1="856.5" y1="920.6" x2="867" y2="920.6"/></g>
<text x="0" y="0" font-size="13" text-anchor="middle" font-weight="normal" fill="#000" transform="translate(35.4,1092) rotate(-90)">Wind</text>
<text x="0" y="0" font-size="13" text-anchor="middle" font-weight="normal" fill="#000" transform="translate(43.8,1466.5) rotate(-90)">ACE</text>
<text x="0" y="0" font-size="13" text-anchor="middle" font-weight="normal" fill="#000" transform="translate(938,1092.5) rotate(-90)">Pressure</text>
<g shape-rendering="crispEdges"><rect x="979.7" y="903.3" width="748.8" height="749.0" fill="#000"/>
<rect x="1305.6" y="903.3" width="423.2" height="6.6" fill="#fff"/>
<rect x="1305.7" y="909.6" width="423.1" height="14.6" fill="#fff"/>
<rect x="1291.6" y="923.9" width="437.2" height="14.6" fill="#fff"/>
<rect x="1291.6" y="938.1" width="437.2" height="14.6" fill="#fff"/>
<rect x="1291.7" y="952.4" width="437.1" height="14.6" fill="#fff"/>
<rect x="1291.7" y="966.7" width="437.1" height="14.6" fill="#fff"/>
<rect x="1291.7" y="981.0" width="437.1" height="14.6" fill="#fff"/>
<rect x="1305.8" y="995.3" width="423.0" height="14.6" fill="#fff"/>
<rect x="1305.8" y="1009.6" width="423.0" height="14.6" fill="#fff"/>
<rect x="1108.9" y="1009.6" width="14.4" height="14.6" fill="#fff"/>
<rect x="1305.8" y="1023.8" width="423.0" height="14.6" fill="#fff"/>
<rect x="1277.8" y="1038.1" width="70.6" height="14.6" fill="#fff"/>
<rect x="1390.2" y="1038.1" width="338.6" height="14.6" fill="#fff"/>
<rect x="1277.8" y="1052.4" width="70.6" height="14.6" fill="#fff"/>
<rect x="1390.2" y="1052.4" width="338.6" height="14.6" fill="#fff"/>
<rect x="1277.8" y="1066.7" width="70.6" height="14.6" fill="#fff"/>
<rect x="1390.2" y="1066.7" width="70.6" height="14.6" fill="#fff"/>
<rect x="1488.6" y="1066.7" width="42.5" height="14.6" fill="#fff"/>
<rect x="1558.9" y="1066.7" width="14.4" height="14.6" fill="#fff"/>
<rect x="1601.1" y="1066.7" width="42.5" height="14.6" fill="#fff"/>
<rect x="1685.4" y="1066.7" width="43.4" height="14.6" fill="#fff"/>
<rect x="1095.1" y="1066.7" width="14.4" height="14.6" fill="#fff"/>
<rect x="1305.9" y="1081.0" width="28.4" height="14.6" fill="#fff"/>
<rect x="1390.2" y="1081.0" width="56.5" height="14.6" fill="#fff"/>
<rect x="1502.7" y="1081.0" width="14.4" height="14.6" fill="#fff"/>
<rect x="1713.6" y="1081.0" width="15.2" height="14.6" fill="#fff"/>
<rect x="1095.2" y="1081.0" width="14.3" height="14.6" fill="#fff"/>
<rect x="1306.0" y="1095.3" width="42.4" height="14.6" fill="#fff"/>
<rect x="1390.2" y="1095.3" width="14.3" height="14.6" fill="#fff"/>
<rect x="1544.9" y="1095.3" width="98.7" height="14.6" fill="#a0a0a0"/>
<rect x="1095.3" y="1095.3" width="14.3" height="14.6" fill="#fff"/>
<rect x="1320.0" y="1109.5" width="28.4" height="14.6" fill="#fff"/>
<rect x="1516.7" y="1109.5" width="154.9" height="14.6" fill="#a0a0a0"/>
<rect x="1095.3" y="1109.5" width="14.3" height="14.6" fill="#fff"/>
<rect x="1320.1" y="1123.8" width="28.4" height="14.6" fill="#fff"/>
<rect x="1502.7" y="1123.8" width="56.5" height="14.6" fill="#a0a0a0"/>
<rect x="1558.9" y="1123.8" width="28.4" height="14.6" fill="#6e6e6e"/>
<rect x="1587.0" y="1123.8" width="14.4" height="14.6" fill="#a0a0a0"/>
<rect x="1601.1" y="1123.8" width="56.5" height="14.6" fill="#6e6e6e"/>
<rect x="1657.3" y="1123.8" width="28.4" height="14.6" fill="#a0a0a0"/>
<rect x="1488.6" y="1138.1" width="28.4" height="14.6" fill="#a0a0a0"/>
<rect x="1516.7" y="1138.1" width="56.5" height="14.6" fill="#6e6e6e"/>
<rect x="1573.0" y="1138.1" width="14.4" height="14.6" fill="#3c3c3c"/>
<rect x="1587.0" y="1138.1" width="14.4" height="14.6" fill="#c2c2c2"/>
<rect x="1601.1" y="1138.1" width="28.4" height="14.6" fill="#a8a8a8"/>
<rect x="1629.2" y="1138.1" width="14.4" height="14.6" fill="#3c3c3c"/>
<rect x="1643.3" y="1138.1" width="28.4" height="14.6" fill="#6e6e6e"/>
<rect x="1671.4" y="1138.1" width="28.4" height="14.6" fill="#a0a0a0"/>
<rect x="1474.6" y="1152.4" width="42.5" height="14.6" fill="#a0a0a0"/>
<rect x="1516.7" y="1152.4" width="14.4" height="14.6" fill="#6e6e6e"/>
<rect x="1530.8" y="1152.4" width="14.4" height="14.6" fill="#3c3c3c"/>
<rect x="1544.9" y="1152.4" width="28.4" height="14.6" fill="#6e6e6e"/>
<rect x="1573.0" y="1152.4" width="14.4" height="14.6" fill="#c2c2c2"/>
<rect x="1587.0" y="1152.4" width="14.4" height="14.6" fill="#9a9a9a"/>
<rect x="1601.1" y="1152.4" width="14.4" height="14.6" fill="#8e8e8e"/>
<rect x="1615.1" y="1152.4" width="14.4" height="14.6" fill="#a8a8a8"/>
<rect x="1629.2" y="1152.4" width="14.4" height="14.6" fill="#3c3c3c"/>
<rect x="1643.3" y="1152.4" width="28.4" height="14.6" fill="#6e6e6e"/>
<rect x="1671.4" y="1152.4" width="28.4" height="14.6" fill="#a0a0a0"/>
<rect x="1446.5" y="1166.7" width="70.6" height="14.6" fill="#a0a0a0"/>
<rect x="1516.7" y="1166.7" width="14.4" height="14.6" fill="#6e6e6e"/>
<rect x="1530.8" y="1166.7" width="14.4" height="14.6" fill="#c2c2c2"/>
<rect x="1544.9" y="1166.7" width="14.4" height="14.6" fill="#b4b4b4"/>
<rect x="1558.9" y="1166.7" width="14.4" height="14.6" fill="#c2c2c2"/>
<rect x="1573.0" y="1166.7" width="14.4" height="14.6" fill="#a0a0a0"/>
<rect x="1587.0" y="1166.7" width="28.4" height="14.6" fill="#8e8e8e"/>
<rect x="1615.1" y="1166.7" width="14.4" height="14.6" fill="#a8a8a8"/>
<rect x="1629.2" y="1166.7" width="14.4" height="14.6" fill="#3c3c3c"/>
<rect x="1643.3" y="1166.7" width="56.5" height="14.6" fill="#6e6e6e"/>
<rect x="1699.5" y="1166.7" width="14.4" height="14.6" fill="#a0a0a0"/>
<rect x="1418.3" y="1180.9" width="98.7" height="14.6" fill="#a0a0a0"/>
<rect x="1516.7" y="1180.9" width="14.4" height="14.6" fill="#6e6e6e"/>
<rect x="1530.8" y="1180.9" width="14.4" height="14.6" fill="#b4b4b4"/>
<rect x="1544.9" y="1180.9" width="14.4" height="14.6" fill="#8e8e8e"/>
<rect x="1558.9" y="1180.9" width="28.4" height="14.6" fill="#868686"/>
<rect x="1587.0" y="1180.9" width="14.4" height="14.6" fill="#9a9a9a"/>
<rect x="1601.1" y="1180.9" width="14.4" height="14.6" fill="#8e8e8e"/>
<rect x="1615.1" y="1180.9" width="14.4" height="14.6" fill="#b4b4b4"/>
<rect x="1629.2" y="1180.9" width="70.6" height="14.6" fill="#6e6e6e"/>
<rect x="1699.5" y="1180.9" width="29.3" height="14.6" fill="#a0a0a0"/>
<rect x="1418.3" y="1195.2" width="98.7" height="14.6" fill="#a0a0a0"/>
<rect x="1516.7" y="1195.2" width="14.4" height="14.6" fill="#6e6e6e"/>
<rect x="1530.8" y="1195.2" width="14.4" height="14.6" fill="#b4b4b4"/>
<rect x="1544.9" y="1195.2" width="14.4" height="14.6" fill="#8e8e8e"/>
<rect x="1558.9" y="1195.2" width="14.4" height="14.6" fill="#868686"/>
<rect x="1573.0" y="1195.2" width="14.4" height="14.6" fill="#9a9a9a"/>
<rect x="1587.0" y="1195.2" width="28.4" height="14.6" fill="#a8a8a8"/>
<rect x="1615.1" y="1195.2" width="14.4" height="14.6" fill="#3c3c3c"/>
<rect x="1629.2" y="1195.2" width="56.5" height="14.6" fill="#6e6e6e"/>
<rect x="1685.4" y="1195.2" width="43.4" height="14.6" fill="#a0a0a0"/>
<rect x="1404.3" y="1209.5" width="98.7" height="14.6" fill="#a0a0a0"/>
<rect x="1502.7" y="1209.5" width="28.4" height="14.6" fill="#6e6e6e"/>
<rect x="1530.8" y="1209.5" width="14.4" height="14.6" fill="#3c3c3c"/>
<rect x="1544.9" y="1209.5" width="28.4" height="14.6" fill="#b4b4b4"/>
<rect x="1573.0" y="1209.5" width="14.4" height="14.6" fill="#c2c2c2"/>
<rect x="1587.0" y="1209.5" width="28.4" height="14.6" fill="#3c3c3c"/>
<rect x="1615.1" y="1209.5" width="84.6" height="14.6" fill="#6e6e6e"/>
<rect x="1699.5" y="1209.5" width="14.4" height="14.6" fill="#a0a0a0"/>
<rect x="1418.3" y="1223.8" width="70.6" height="14.6" fill="#a0a0a0"/>
<rect x="1488.6" y="1223.8" width="42.5" height="14.6" fill="#6e6e6e"/>
<rect x="1530.8" y="1223.8" width="42.5" height="14.6" fill="#3c3c3c"/>
<rect x="1573.0" y="1223.8" width="84.6" height="14.6" fill="#6e6e6e"/>
<rect x="1657.3" y="1223.8" width="28.4" height="14.6" fill="#3c3c3c"/>
<rect x="1685.4" y="1223.8" width="14.4" height="14.6" fill="#6e6e6e"/>
<rect x="1699.5" y="1223.8" width="14.4" height="14.6" fill="#a0a0a0"/>
<rect x="1334.2" y="1238.1" width="14.3" height="14.6" fill="#a0a0a0"/>
<rect x="1418.3" y="1238.1" width="84.6" height="14.6" fill="#a0a0a0"/>
<rect x="1502.7" y="1238.1" width="112.8" height="14.6" fill="#6e6e6e"/>
<rect x="1615.1" y="1238.1" width="28.4" height="14.6" fill="#a0a0a0"/>
<rect x="1643.3" y="1238.1" width="14.4" height="14.6" fill="#6e6e6e"/>
<rect x="1657.3" y="1238.1" width="28.4" height="14.6" fill="#3c3c3c"/>
<rect x="1685.4" y="1238.1" width="14.4" height="14.6" fill="#6e6e6e"/>
<rect x="1699.5" y="1238.1" width="14.4" height="14.6" fill="#a0a0a0"/>
<rect x="1418.3" y="1252.4" width="98.7" height="14.6" fill="#a0a0a0"/>
<rect x="1516.7" y="1252.4" width="84.6" height="14.6" fill="#6e6e6e"/>
<rect x="1601.1" y="1252.4" width="42.5" height="14.6" fill="#a0a0a0"/>
<rect x="1643.3" y="1252.4" width="42.5" height="14.6" fill="#6e6e6e"/>
<rect x="1685.4" y="1252.4" width="14.4" height="14.6" fill="#a0a0a0"/>
<rect x="1404.3" y="1266.6" width="98.7" height="14.6" fill="#a0a0a0"/>
<rect x="1502.7" y="1266.6" width="84.6" height="14.6" fill="#6e6e6e"/>
<rect x="1587.0" y="1266.6" width="70.6" height="14.6" fill="#a0a0a0"/>
<rect x="1657.3" y="1266.6" width="14.4" height="14.6" fill="#6e6e6e"/>
<rect x="1671.4" y="1266.6" width="28.4" height="14.6" fill="#a0a0a0"/>
<rect x="1713.6" y="1266.6" width="15.2" height="14.6" fill="#fff"/>
<rect x="1348.3" y="1280.9" width="182.8" height="14.6" fill="#a0a0a0"/>
<rect x="1530.8" y="1280.9" width="56.5" height="14.6" fill="#6e6e6e"/>
<rect x="1587.0" y="1280.9" width="98.7" height="14.6" fill="#a0a0a0"/>
<rect x="1699.5" y="1280.9" width="29.3" height="14.6" fill="#fff"/>
<rect x="1348.3" y="1295.2" width="168.7" height="14.6" fill="#a0a0a0"/>
<rect x="1516.7" y="1295.2" width="70.6" height="14.6" fill="#6e6e6e"/>
<rect x="1587.0" y="1295.2" width="70.6" height="14.6" fill="#a0a0a0"/>
<rect x="1685.4" y="1295.2" width="43.4" height="14.6" fill="#fff"/>
<rect x="1194.3" y="1295.2" width="14.3" height="14.6" fill="#fff"/>
<rect x="1348.3" y="1309.5" width="126.5" height="14.6" fill="#a0a0a0"/>
<rect x="1474.6" y="1309.5" width="98.7" height="14.6" fill="#6e6e6e"/>
<rect x="1573.0" y="1309.5" width="70.6" height="14.6" fill="#a0a0a0"/>
<rect x="1671.4" y="1309.5" width="42.5" height="14.6" fill="#fff"/>
<rect x="1713.6" y="1309.5" width="15.2" height="14.6" fill="#8c8c8c"/>
<rect x="1208.3" y="1309.5" width="14.3" height="14.6" fill="#fff"/>
<rect x="1376.3" y="1323.8" width="84.5" height="14.6" fill="#a0a0a0"/>
<rect x="1460.5" y="1323.8" width="56.5" height="14.6" fill="#6e6e6e"/>
<rect x="1516.7" y="1323.8" width="28.4" height="14.6" fill="#a0a0a0"/>
<rect x="1544.9" y="1323.8" width="14.4" height="14.6" fill="#6e6e6e"/>
<rect x="1558.9" y="1323.8" width="70.6" height="14.6" fill="#a0a0a0"/>
<rect x="1643.3" y="1323.8" width="42.5" height="14.6" fill="#fff"/>
<rect x="1685.4" y="1323.8" width="28.4" height="14.6" fill="#8c8c8c"/>
<rect x="1713.6" y="1323.8" width="15.2" height="14.6" fill="#fff"/>
<rect x="1208.3" y="1323.8" width="14.3" height="14.6" fill="#fff"/>
<rect x="1404.3" y="1338.1" width="211.1" height="14.6" fill="#a0a0a0"/>
<rect x="1629.2" y="1338.1" width="70.6" height="14.6" fill="#fff"/>
<rect x="1699.5" y="1338.1" width="29.3" height="14.6" fill="#8c8c8c"/>
<rect x="1446.5" y="1352.3" width="154.9" height="14.6" fill="#a0a0a0"/>
<rect x="1629.2" y="1352.3" width="28.4" height="14.6" fill="#fff"/>
<rect x="1657.3" y="1352.3" width="28.4" height="14.6" fill="#8c8c8c"/>
<rect x="1685.4" y="1352.3" width="28.4" height="14.6" fill="#fff"/>
<rect x="1713.6" y="1352.3" width="15.2" height="14.6" fill="#8c8c8c"/>
<rect x="1124.5" y="1352.3" width="14.3" height="14.6" fill="#fff"/>
<rect x="1474.6" y="1366.6" width="42.5" height="14.6" fill="#a0a0a0"/>
<rect x="1573.0" y="1366.6" width="14.4" height="14.6" fill="#a0a0a0"/>
<rect x="1615.1" y="1366.6" width="42.5" height="14.6" fill="#fff"/>
<rect x="1657.3" y="1366.6" width="14.4" height="14.6" fill="#8c8c8c"/>
<rect x="1671.4" y="1366.6" width="42.5" height="14.6" fill="#fff"/>
<rect x="1713.6" y="1366.6" width="15.2" height="14.6" fill="#8c8c8c"/>
<rect x="1601.1" y="1380.9" width="112.8" height="14.6" fill="#fff"/>
<rect x="1713.6" y="1380.9" width="15.2" height="14.6" fill="#8c8c8c"/>
<rect x="1601.1" y="1395.2" width="84.6" height="14.6" fill="#fff"/>
<rect x="1699.5" y="1395.2" width="29.3" height="14.6" fill="#fff"/>
<rect x="1601.1" y="1409.5" width="14.4" height="14.6" fill="#fff"/>
<rect x="1657.3" y="1409.5" width="14.4" height="14.6" fill="#fff"/>
<rect x="1699.5" y="1409.5" width="29.3" height="14.6" fill="#fff"/>
<rect x="1629.2" y="1423.8" width="14.4" height="14.6" fill="#a0a0a0"/>
<rect x="1699.5" y="1423.8" width="29.3" height="14.6" fill="#fff"/>
<rect x="1685.4" y="1438.0" width="43.4" height="14.6" fill="#fff"/>
<rect x="1657.3" y="1452.3" width="71.5" height="14.6" fill="#fff"/>
<rect x="1671.4" y="1466.6" width="57.4" height="14.6" fill="#fff"/>
<rect x="1671.4" y="1480.9" width="57.4" height="14.6" fill="#fff"/>
<rect x="979.7" y="1480.9" width="5.8" height="14.6" fill="#a0a0a0"/>
<rect x="1685.4" y="1495.2" width="43.4" height="14.6" fill="#fff"/>
<rect x="979.7" y="1495.2" width="5.9" height="14.6" fill="#a0a0a0"/>
<rect x="1685.4" y="1509.5" width="43.4" height="14.6" fill="#fff"/>
<rect x="979.7" y="1509.5" width="6.0" height="14.6" fill="#a0a0a0"/>
<rect x="1699.5" y="1523.7" width="29.3" height="14.6" fill="#fff"/>
<rect x="979.7" y="1523.7" width="20.2" height="14.6" fill="#a0a0a0"/>
<rect x="1685.4" y="1538.0" width="43.4" height="14.6" fill="#fff"/>
<rect x="979.7" y="1538.0" width="48.2" height="14.6" fill="#a0a0a0"/>
<rect x="1671.4" y="1552.3" width="57.4" height="14.6" fill="#fff"/>
<rect x="979.7" y="1552.3" width="62.2" height="14.6" fill="#a0a0a0"/>
<rect x="1671.4" y="1566.6" width="57.4" height="14.6" fill="#fff"/>
<rect x="979.7" y="1566.6" width="76.2" height="14.6" fill="#a0a0a0"/>
<rect x="1671.4" y="1580.9" width="57.4" height="14.6" fill="#fff"/>
<rect x="979.7" y="1580.9" width="90.3" height="14.6" fill="#a0a0a0"/>
<rect x="1671.4" y="1595.2" width="57.4" height="14.6" fill="#fff"/>
<rect x="979.7" y="1595.2" width="90.3" height="14.6" fill="#a0a0a0"/>
<rect x="1671.4" y="1609.4" width="57.4" height="14.6" fill="#fff"/>
<rect x="979.7" y="1609.4" width="104.4" height="14.6" fill="#a0a0a0"/>
<rect x="1643.3" y="1623.7" width="56.5" height="14.6" fill="#fff"/>
<rect x="1713.6" y="1623.7" width="15.2" height="14.6" fill="#fff"/>
<rect x="979.7" y="1623.7" width="146.2" height="14.6" fill="#a0a0a0"/>
<rect x="1629.2" y="1638.0" width="99.6" height="14.6" fill="#fff"/>
<rect x="979.7" y="1638.0" width="160.2" height="14.6" fill="#a0a0a0"/></g>
<rect x="979.7" y="903.3" width="748.8" height="749.0" fill="none" stroke="#000" stroke-width="3"/>
<text x="997.6" y="938.7" font-size="20.7" text-anchor="start" font-weight="bold" fill="#fff" >WMG Count: 0</text>
</svg></body></html>
